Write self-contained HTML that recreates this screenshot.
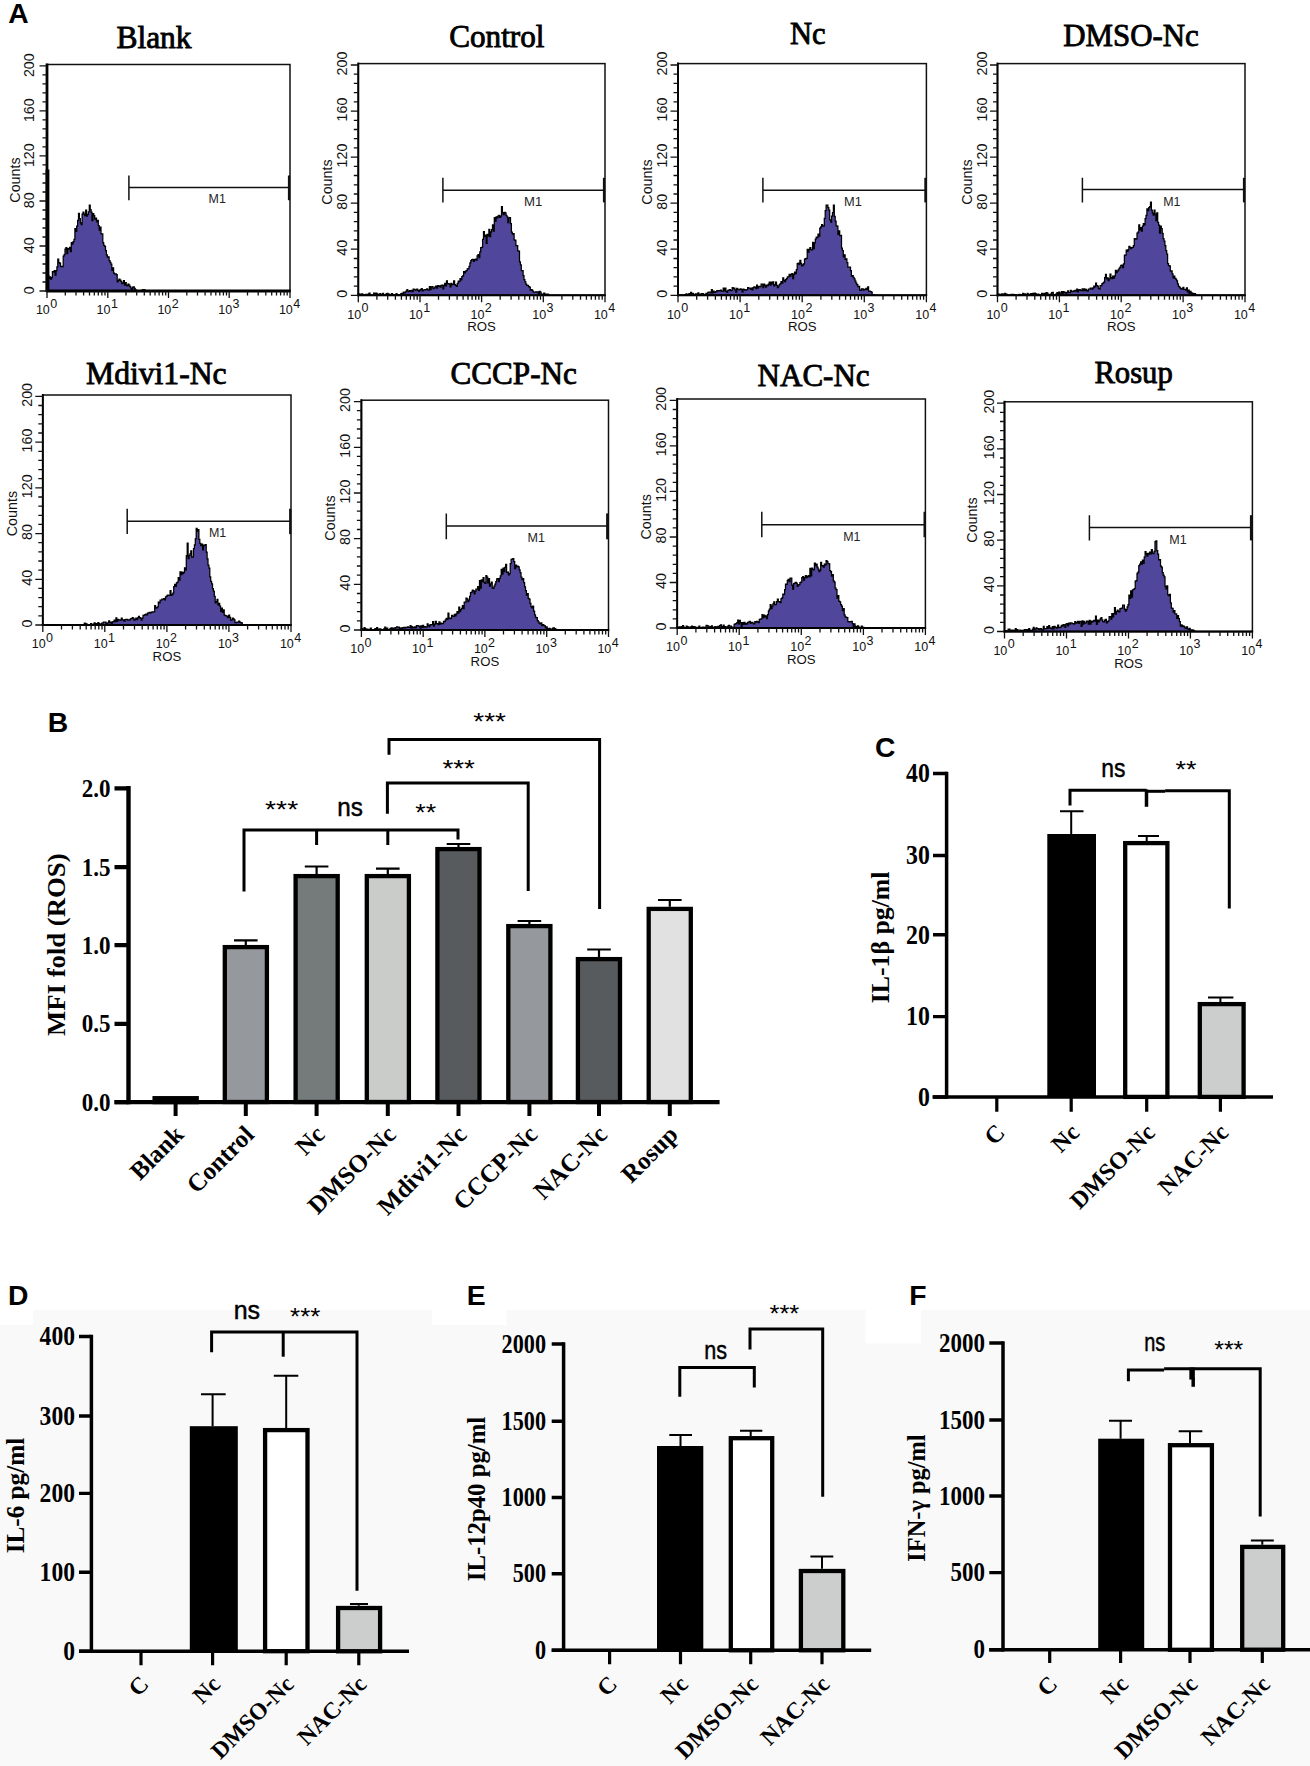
<!DOCTYPE html><html><head><meta charset="utf-8"><style>html,body{margin:0;padding:0;background:#fff;width:1310px;height:1766px;overflow:hidden}svg{display:block}</style></head><body>
<svg width="1310" height="1766" viewBox="0 0 1310 1766">
<rect width="1310" height="1766" fill="#fff"/>
<text x="8.2" y="23.4" font-family='"Liberation Sans", sans-serif' font-weight="bold" font-size="28.3">A</text>
<path d="M47.0,291.0 L47.0,277.4 L47.9,277.4 L47.9,275.4 L48.8,275.4 L48.8,278.4 L49.7,278.4 L49.7,276.9 L50.6,276.9 L50.6,279.0 L51.5,279.0 L51.5,277.6 L52.4,277.6 L52.4,271.5 L53.3,271.5 L53.3,271.9 L54.2,271.9 L54.2,270.6 L55.1,270.6 L55.1,275.0 L56.0,275.0 L56.0,270.7 L56.9,270.7 L56.9,266.9 L57.8,266.9 L57.8,259.2 L58.7,259.2 L58.7,262.5 L59.6,262.5 L59.6,263.1 L60.5,263.1 L60.5,266.6 L61.4,266.6 L61.4,266.3 L62.3,266.3 L62.3,266.6 L63.2,266.6 L63.2,256.0 L64.1,256.0 L64.1,254.6 L65.0,254.6 L65.0,249.1 L65.9,249.1 L65.9,247.6 L66.8,247.6 L66.8,253.5 L67.7,253.5 L67.7,248.5 L68.6,248.5 L68.6,249.1 L69.5,249.1 L69.5,247.4 L70.4,247.4 L70.4,251.6 L71.3,251.6 L71.3,242.6 L72.2,242.6 L72.2,244.0 L73.1,244.0 L73.1,241.7 L74.0,241.7 L74.0,239.3 L74.9,239.3 L74.9,228.5 L75.8,228.5 L75.8,231.3 L76.7,231.3 L76.7,226.0 L77.6,226.0 L77.6,220.3 L78.5,220.3 L78.5,213.3 L79.4,213.3 L79.4,218.5 L80.3,218.5 L80.3,222.9 L81.2,222.9 L81.2,224.5 L82.1,224.5 L82.1,214.0 L83.0,214.0 L83.0,212.0 L83.9,212.0 L83.9,214.2 L84.8,214.2 L84.8,215.5 L85.7,215.5 L85.7,210.0 L86.6,210.0 L86.6,216.1 L87.5,216.1 L87.5,214.4 L88.4,214.4 L88.4,211.8 L89.3,211.8 L89.3,205.2 L90.2,205.2 L90.2,209.7 L91.1,209.7 L91.1,212.1 L92.0,212.1 L92.0,220.7 L92.9,220.7 L92.9,213.6 L93.8,213.6 L93.8,215.5 L94.7,215.5 L94.7,219.0 L95.6,219.0 L95.6,218.0 L96.5,218.0 L96.5,221.7 L97.4,221.7 L97.4,220.4 L98.3,220.4 L98.3,225.6 L99.2,225.6 L99.2,230.0 L100.1,230.0 L100.1,227.0 L101.0,227.0 L101.0,233.9 L101.9,233.9 L101.9,233.9 L102.8,233.9 L102.8,242.5 L103.7,242.5 L103.7,245.4 L104.6,245.4 L104.6,246.3 L105.5,246.3 L105.5,250.5 L106.4,250.5 L106.4,254.8 L107.3,254.8 L107.3,257.0 L108.2,257.0 L108.2,256.8 L109.1,256.8 L109.1,260.6 L110.0,260.6 L110.0,262.4 L110.9,262.4 L110.9,264.1 L111.8,264.1 L111.8,270.4 L112.7,270.4 L112.7,267.8 L113.6,267.8 L113.6,273.1 L114.5,273.1 L114.5,273.8 L115.4,273.8 L115.4,273.9 L116.3,273.9 L116.3,274.6 L117.2,274.6 L117.2,281.8 L118.1,281.8 L118.1,280.3 L119.0,280.3 L119.0,279.2 L119.9,279.2 L119.9,280.2 L120.8,280.2 L120.8,281.3 L121.7,281.3 L121.7,283.5 L122.6,283.5 L122.6,282.8 L123.5,282.8 L123.5,280.7 L124.4,280.7 L124.4,285.0 L125.3,285.0 L125.3,282.6 L126.2,282.6 L126.2,285.2 L127.1,285.2 L127.1,285.9 L128.0,285.9 L128.0,284.1 L128.9,284.1 L128.9,285.2 L129.8,285.2 L129.8,286.6 L130.7,286.6 L130.7,288.0 L131.6,288.0 L131.6,289.3 L132.5,289.3 L132.5,287.1 L133.4,287.1 L133.4,286.9 L134.3,286.9 L134.3,288.4 L135.2,288.4 L135.2,289.6 L136.1,289.6 L136.1,291.0 L137.0,291.0 L137.0,290.7 L137.9,290.7 L137.9,290.8 L138.8,290.8 L138.8,290.8 L139.7,290.8 L139.7,290.8 L140.6,290.8 L140.6,290.8 L141.5,290.8 L141.5,290.4 L142.4,290.4 L142.4,289.8 L143.3,289.8 L143.3,289.5 L144.2,289.5 L144.2,289.9 L145.1,289.9 L145.1,291.0 L146.0,291.0 L146.0,291.0 L146.9,291.0 L146.9,291.0 L147.8,291.0 L147.8,291.0 L148.7,291.0 L148.7,291.0 L149.6,291.0 L149.6,291.0 L150.5,291.0 L150.5,291.0 L151.4,291.0 L151.4,291.0 L152.3,291.0 L152.3,291.0 L153.2,291.0 L153.2,291.0 L154.1,291.0 L154.1,291.0 L155.0,291.0 L155.0,291.0 L155.9,291.0 L155.9,291.0 L156.8,291.0 L156.8,291.0 L157.7,291.0 L157.7,291.0 L158.6,291.0 L158.6,291.0 L159.5,291.0 L159.5,291.0 L160.4,291.0 L160.4,291.0 L161.3,291.0 L161.3,291.0 L162.2,291.0 L162.2,291.0 L163.1,291.0 L163.1,291.0 L164.0,291.0 L164.0,291.0 L164.9,291.0 L164.9,291.0 L165.8,291.0 L165.8,291.0 L166.7,291.0 L166.7,291.0 L167.6,291.0 L167.6,291.0 L168.5,291.0 L168.5,291.0 L169.4,291.0 L169.4,291.0 L170.3,291.0 L170.3,291.0 L171.2,291.0 L171.2,291.0 L172.1,291.0 L172.1,291.0 L173.0,291.0 L173.0,291.0 L173.9,291.0 L173.9,291.0 L174.8,291.0 L174.8,291.0 L175.7,291.0 L175.7,291.0 L176.6,291.0 L176.6,291.0 L177.5,291.0 L177.5,291.0 L178.4,291.0 L178.4,291.0 L179.3,291.0 L179.3,291.0 L180.2,291.0 L180.2,291.0 L181.1,291.0 L181.1,291.0 L182.0,291.0 L182.0,291.0 L182.9,291.0 L182.9,291.0 L183.8,291.0 L183.8,291.0 L184.7,291.0 L184.7,291.0 L185.6,291.0 L185.6,291.0 L186.5,291.0 L186.5,291.0 L187.4,291.0 L187.4,291.0 L188.3,291.0 L188.3,291.0 L189.2,291.0 L189.2,291.0 L190.1,291.0 L190.1,291.0 L191.0,291.0 L191.0,291.0 L191.9,291.0 L191.9,291.0 L192.8,291.0 L192.8,291.0 L193.7,291.0 L193.7,291.0 L194.6,291.0 L194.6,291.0 L195.5,291.0 L195.5,291.0 L196.4,291.0 L196.4,291.0 L197.3,291.0 L197.3,291.0 L198.2,291.0 L198.2,291.0 L199.1,291.0 L199.1,291.0 L200.0,291.0 L200.0,291.0 L200.9,291.0 L200.9,291.0 L201.8,291.0 L201.8,291.0 L202.7,291.0 L202.7,291.0 L203.6,291.0 L203.6,291.0 L204.5,291.0 L204.5,291.0 L205.4,291.0 L205.4,291.0 L206.3,291.0 L206.3,291.0 L207.2,291.0 L207.2,291.0 L208.1,291.0 L208.1,291.0 L209.0,291.0 L209.0,291.0 L209.9,291.0 L209.9,291.0 L210.8,291.0 L210.8,291.0 L211.7,291.0 L211.7,291.0 L212.6,291.0 L212.6,291.0 L213.5,291.0 L213.5,291.0 L214.4,291.0 L214.4,291.0 L215.3,291.0 L215.3,291.0 L216.2,291.0 L216.2,291.0 L217.1,291.0 L217.1,291.0 L218.0,291.0 L218.0,291.0 L218.9,291.0 L218.9,291.0 L219.8,291.0 L219.8,291.0 L220.7,291.0 L220.7,291.0 L221.6,291.0 L221.6,291.0 L222.5,291.0 L222.5,291.0 L223.4,291.0 L223.4,291.0 L224.3,291.0 L224.3,291.0 L225.2,291.0 L225.2,291.0 L226.1,291.0 L226.1,291.0 L227.0,291.0 L227.0,291.0 L227.9,291.0 L227.9,291.0 L228.8,291.0 L228.8,291.0 L229.7,291.0 L229.7,291.0 L230.6,291.0 L230.6,291.0 L231.5,291.0 L231.5,291.0 L232.4,291.0 L232.4,291.0 L233.3,291.0 L233.3,291.0 L234.2,291.0 L234.2,291.0 L235.1,291.0 L235.1,291.0 L236.0,291.0 L236.0,291.0 L236.9,291.0 L236.9,291.0 L237.8,291.0 L237.8,291.0 L238.7,291.0 L238.7,291.0 L239.6,291.0 L239.6,291.0 L240.5,291.0 L240.5,291.0 L241.4,291.0 L241.4,291.0 L242.3,291.0 L242.3,291.0 L243.2,291.0 L243.2,291.0 L244.1,291.0 L244.1,291.0 L245.0,291.0 L245.0,291.0 L245.9,291.0 L245.9,291.0 L246.8,291.0 L246.8,291.0 L247.7,291.0 L247.7,291.0 L248.6,291.0 L248.6,291.0 L249.5,291.0 L249.5,291.0 L250.4,291.0 L250.4,291.0 L251.3,291.0 L251.3,291.0 L252.2,291.0 L252.2,291.0 L253.1,291.0 L253.1,291.0 L254.0,291.0 L254.0,291.0 L254.9,291.0 L254.9,291.0 L255.8,291.0 L255.8,291.0 L256.7,291.0 L256.7,291.0 L257.6,291.0 L257.6,291.0 L258.5,291.0 L258.5,291.0 L259.4,291.0 L259.4,291.0 L260.3,291.0 L260.3,291.0 L261.2,291.0 L261.2,291.0 L262.1,291.0 L262.1,291.0 L263.0,291.0 L263.0,291.0 L263.9,291.0 L263.9,291.0 L264.8,291.0 L264.8,291.0 L265.7,291.0 L265.7,291.0 L266.6,291.0 L266.6,291.0 L267.5,291.0 L267.5,291.0 L268.4,291.0 L268.4,291.0 L269.3,291.0 L269.3,291.0 L270.2,291.0 L270.2,291.0 L271.1,291.0 L271.1,291.0 L272.0,291.0 L272.0,291.0 L272.9,291.0 L272.9,291.0 L273.8,291.0 L273.8,291.0 L274.7,291.0 L274.7,291.0 L275.6,291.0 L275.6,291.0 L276.5,291.0 L276.5,291.0 L277.4,291.0 L277.4,291.0 L278.3,291.0 L278.3,291.0 L279.2,291.0 L279.2,291.0 L280.1,291.0 L280.1,291.0 L281.0,291.0 L281.0,291.0 L281.9,291.0 L281.9,291.0 L282.8,291.0 L282.8,291.0 L283.7,291.0 L283.7,291.0 L284.6,291.0 L284.6,291.0 L285.5,291.0 L285.5,291.0 L286.4,291.0 L286.4,291.0 L287.3,291.0 L287.3,291.0 L288.2,291.0 L288.2,291.0 L289.1,291.0 L289.1,291.0 L290.0,291.0 L290.0,291.0 Z" fill="#50479c" stroke="#000" stroke-width="1.25" stroke-linejoin="miter" stroke-miterlimit="2"/>
<rect x="47.0" y="64.5" width="243.0" height="226.5" fill="none" stroke="#111" stroke-width="1.5"/>
<line x1="47.0" y1="63.5" x2="47.0" y2="292.0" stroke="#000" stroke-width="2.8"/>
<line x1="47.5" y1="169.5" x2="47.5" y2="292.0" stroke="#000" stroke-width="3.8"/>
<line x1="46.0" y1="291.0" x2="290.7" y2="291.0" stroke="#000" stroke-width="2.8"/>
<path d="M39.5,291.0 h7.5 M42.5,282.0 h4.5 M42.5,273.0 h4.5 M42.5,264.0 h4.5 M42.5,255.0 h4.5 M39.5,246.0 h7.5 M42.5,237.0 h4.5 M42.5,228.0 h4.5 M42.5,219.0 h4.5 M42.5,210.0 h4.5 M39.5,201.0 h7.5 M42.5,192.0 h4.5 M42.5,183.0 h4.5 M42.5,173.9 h4.5 M42.5,164.9 h4.5 M39.5,155.9 h7.5 M42.5,146.9 h4.5 M42.5,137.9 h4.5 M42.5,128.9 h4.5 M42.5,119.9 h4.5 M39.5,110.9 h7.5 M42.5,101.9 h4.5 M42.5,92.9 h4.5 M42.5,83.9 h4.5 M42.5,74.9 h4.5 M39.5,65.9 h7.5" stroke="#111" stroke-width="1.3"/>
<path d="M47.0,291.0 v7.0 M65.3,291.0 v4.5 M76.0,291.0 v4.5 M83.6,291.0 v4.5 M89.5,291.0 v4.5 M94.3,291.0 v4.5 M98.3,291.0 v4.5 M101.9,291.0 v4.5 M105.0,291.0 v4.5 M107.8,291.0 v7.0 M126.0,291.0 v4.5 M136.7,291.0 v4.5 M144.3,291.0 v4.5 M150.2,291.0 v4.5 M155.0,291.0 v4.5 M159.1,291.0 v4.5 M162.6,291.0 v4.5 M165.7,291.0 v4.5 M168.5,291.0 v7.0 M186.8,291.0 v4.5 M197.5,291.0 v4.5 M205.1,291.0 v4.5 M211.0,291.0 v4.5 M215.8,291.0 v4.5 M219.8,291.0 v4.5 M223.4,291.0 v4.5 M226.5,291.0 v4.5 M229.2,291.0 v7.0 M247.5,291.0 v4.5 M258.2,291.0 v4.5 M265.8,291.0 v4.5 M271.7,291.0 v4.5 M276.5,291.0 v4.5 M280.6,291.0 v4.5 M284.1,291.0 v4.5 M287.2,291.0 v4.5 M290.0,291.0 v7" stroke="#111" stroke-width="1.3"/>
<text transform="translate(34.4,290.3) rotate(-90)" font-family='"Liberation Sans", sans-serif' font-size="14.3" text-anchor="middle" fill="#111">0</text>
<text transform="translate(34.4,245.3) rotate(-90)" font-family='"Liberation Sans", sans-serif' font-size="14.3" text-anchor="middle" fill="#111">40</text>
<text transform="translate(34.4,200.3) rotate(-90)" font-family='"Liberation Sans", sans-serif' font-size="14.3" text-anchor="middle" fill="#111">80</text>
<text transform="translate(34.4,155.2) rotate(-90)" font-family='"Liberation Sans", sans-serif' font-size="14.3" text-anchor="middle" fill="#111">120</text>
<text transform="translate(34.4,110.2) rotate(-90)" font-family='"Liberation Sans", sans-serif' font-size="14.3" text-anchor="middle" fill="#111">160</text>
<text transform="translate(34.4,65.2) rotate(-90)" font-family='"Liberation Sans", sans-serif' font-size="14.3" text-anchor="middle" fill="#111">200</text>
<text x="49.8" y="314.2" font-family='"Liberation Sans", sans-serif' font-size="12.5" fill="#111" text-anchor="end">10</text>
<text x="50.2" y="307.8" font-family='"Liberation Sans", sans-serif' font-size="12.5" fill="#111">0</text>
<text x="110.5" y="314.2" font-family='"Liberation Sans", sans-serif' font-size="12.5" fill="#111" text-anchor="end">10</text>
<text x="111.0" y="307.8" font-family='"Liberation Sans", sans-serif' font-size="12.5" fill="#111">1</text>
<text x="171.3" y="314.2" font-family='"Liberation Sans", sans-serif' font-size="12.5" fill="#111" text-anchor="end">10</text>
<text x="171.7" y="307.8" font-family='"Liberation Sans", sans-serif' font-size="12.5" fill="#111">2</text>
<text x="232.1" y="314.2" font-family='"Liberation Sans", sans-serif' font-size="12.5" fill="#111" text-anchor="end">10</text>
<text x="232.4" y="307.8" font-family='"Liberation Sans", sans-serif' font-size="12.5" fill="#111">3</text>
<text x="292.8" y="314.2" font-family='"Liberation Sans", sans-serif' font-size="12.5" fill="#111" text-anchor="end">10</text>
<text x="293.2" y="307.8" font-family='"Liberation Sans", sans-serif' font-size="12.5" fill="#111">4</text>
<text transform="translate(19.8,180.0) rotate(-90)" font-family='"Liberation Sans", sans-serif' font-size="14.3" text-anchor="middle" fill="#111">Counts</text>
<path d="M128.9,175.5 V200.2 M128.9,187.6 H289.0" stroke="#111" stroke-width="1.5" fill="none"/>
<path d="M289.0,175.5 V200.2" stroke="#111" stroke-width="2.2" fill="none"/>
<text x="208.6" y="203.4" font-family='"Liberation Sans", sans-serif' font-size="12.5" fill="#222" textLength="17.2" lengthAdjust="spacingAndGlyphs">M1</text>
<text x="116.4" y="47.6" font-family='"Liberation Serif", serif' font-size="31.5" fill="#000" stroke="#000" stroke-width="0.85" textLength="75.2" lengthAdjust="spacingAndGlyphs">Blank</text>
<path d="M358.3,295.3 L358.3,293.9 L359.2,293.9 L359.2,294.5 L360.1,294.5 L360.1,294.2 L361.0,294.2 L361.0,294.0 L361.9,294.0 L361.9,293.9 L362.8,293.9 L362.8,294.8 L363.7,294.8 L363.7,295.3 L364.6,295.3 L364.6,295.3 L365.5,295.3 L365.5,294.4 L366.4,294.4 L366.4,294.6 L367.3,294.6 L367.3,294.6 L368.2,294.6 L368.2,293.9 L369.1,293.9 L369.1,293.0 L370.0,293.0 L370.0,294.9 L370.9,294.9 L370.9,294.8 L371.8,294.8 L371.8,295.3 L372.7,295.3 L372.7,295.0 L373.6,295.0 L373.6,293.0 L374.5,293.0 L374.5,293.4 L375.4,293.4 L375.4,293.1 L376.3,293.1 L376.3,293.4 L377.2,293.4 L377.2,294.1 L378.1,294.1 L378.1,295.3 L379.0,295.3 L379.0,294.4 L379.9,294.4 L379.9,293.7 L380.8,293.7 L380.8,294.7 L381.7,294.7 L381.7,294.7 L382.6,294.7 L382.6,293.3 L383.5,293.3 L383.5,294.9 L384.4,294.9 L384.4,295.3 L385.3,295.3 L385.3,294.9 L386.2,294.9 L386.2,293.7 L387.1,293.7 L387.1,293.4 L388.0,293.4 L388.0,294.7 L388.9,294.7 L388.9,294.0 L389.8,294.0 L389.8,294.7 L390.7,294.7 L390.7,294.8 L391.6,294.8 L391.6,293.7 L392.5,293.7 L392.5,295.3 L393.4,295.3 L393.4,294.7 L394.3,294.7 L394.3,294.5 L395.2,294.5 L395.2,294.6 L396.1,294.6 L396.1,293.5 L397.0,293.5 L397.0,294.8 L397.9,294.8 L397.9,295.3 L398.8,295.3 L398.8,294.5 L399.7,294.5 L399.7,295.3 L400.6,295.3 L400.6,293.8 L401.5,293.8 L401.5,293.4 L402.4,293.4 L402.4,295.2 L403.3,295.2 L403.3,292.1 L404.2,292.1 L404.2,292.9 L405.1,292.9 L405.1,292.0 L406.0,292.0 L406.0,291.1 L406.9,291.1 L406.9,289.5 L407.8,289.5 L407.8,291.2 L408.7,291.2 L408.7,291.5 L409.6,291.5 L409.6,290.6 L410.5,290.6 L410.5,291.2 L411.4,291.2 L411.4,290.3 L412.3,290.3 L412.3,291.7 L413.2,291.7 L413.2,289.0 L414.1,289.0 L414.1,289.4 L415.0,289.4 L415.0,290.1 L415.9,290.1 L415.9,289.9 L416.8,289.9 L416.8,289.0 L417.7,289.0 L417.7,290.4 L418.6,290.4 L418.6,291.4 L419.5,291.4 L419.5,290.0 L420.4,290.0 L420.4,289.5 L421.3,289.5 L421.3,288.5 L422.2,288.5 L422.2,290.8 L423.1,290.8 L423.1,289.9 L424.0,289.9 L424.0,289.8 L424.9,289.8 L424.9,289.5 L425.8,289.5 L425.8,289.5 L426.7,289.5 L426.7,288.8 L427.6,288.8 L427.6,289.9 L428.5,289.9 L428.5,290.2 L429.4,290.2 L429.4,286.6 L430.3,286.6 L430.3,289.7 L431.2,289.7 L431.2,286.9 L432.1,286.9 L432.1,286.6 L433.0,286.6 L433.0,288.7 L433.9,288.7 L433.9,288.2 L434.8,288.2 L434.8,287.2 L435.7,287.2 L435.7,286.1 L436.6,286.1 L436.6,288.0 L437.5,288.0 L437.5,285.6 L438.4,285.6 L438.4,286.4 L439.3,286.4 L439.3,285.9 L440.2,285.9 L440.2,287.1 L441.1,287.1 L441.1,285.3 L442.0,285.3 L442.0,285.0 L442.9,285.0 L442.9,288.8 L443.8,288.8 L443.8,285.3 L444.7,285.3 L444.7,283.4 L445.6,283.4 L445.6,285.9 L446.5,285.9 L446.5,280.8 L447.4,280.8 L447.4,283.6 L448.3,283.6 L448.3,283.5 L449.2,283.5 L449.2,284.2 L450.1,284.2 L450.1,286.8 L451.0,286.8 L451.0,283.3 L451.9,283.3 L451.9,284.7 L452.8,284.7 L452.8,284.4 L453.7,284.4 L453.7,280.9 L454.6,280.9 L454.6,284.7 L455.5,284.7 L455.5,285.4 L456.4,285.4 L456.4,286.4 L457.3,286.4 L457.3,283.3 L458.2,283.3 L458.2,281.2 L459.1,281.2 L459.1,281.5 L460.0,281.5 L460.0,278.7 L460.9,278.7 L460.9,279.9 L461.8,279.9 L461.8,276.5 L462.7,276.5 L462.7,275.9 L463.6,275.9 L463.6,271.6 L464.5,271.6 L464.5,272.8 L465.4,272.8 L465.4,271.2 L466.3,271.2 L466.3,270.5 L467.2,270.5 L467.2,268.9 L468.1,268.9 L468.1,268.5 L469.0,268.5 L469.0,266.3 L469.9,266.3 L469.9,262.8 L470.8,262.8 L470.8,260.7 L471.7,260.7 L471.7,259.5 L472.6,259.5 L472.6,259.4 L473.5,259.4 L473.5,261.3 L474.4,261.3 L474.4,259.5 L475.3,259.5 L475.3,259.0 L476.2,259.0 L476.2,260.1 L477.1,260.1 L477.1,255.8 L478.0,255.8 L478.0,254.5 L478.9,254.5 L478.9,257.5 L479.8,257.5 L479.8,251.9 L480.7,251.9 L480.7,247.6 L481.6,247.6 L481.6,247.3 L482.6,247.3 L482.6,239.3 L483.5,239.3 L483.5,231.6 L484.4,231.6 L484.4,236.5 L485.3,236.5 L485.3,235.0 L486.2,235.0 L486.2,243.3 L487.1,243.3 L487.1,234.3 L488.0,234.3 L488.0,236.2 L488.9,236.2 L488.9,229.3 L489.8,229.3 L489.8,236.5 L490.7,236.5 L490.7,231.9 L491.6,231.9 L491.6,229.5 L492.5,229.5 L492.5,224.9 L493.4,224.9 L493.4,231.0 L494.3,231.0 L494.3,217.6 L495.2,217.6 L495.2,221.1 L496.1,221.1 L496.1,216.8 L497.0,216.8 L497.0,217.9 L497.9,217.9 L497.9,216.0 L498.8,216.0 L498.8,215.4 L499.7,215.4 L499.7,217.4 L500.6,217.4 L500.6,216.1 L501.5,216.1 L501.5,206.6 L502.4,206.6 L502.4,212.6 L503.3,212.6 L503.3,214.6 L504.2,214.6 L504.2,212.3 L505.1,212.3 L505.1,212.8 L506.0,212.8 L506.0,215.4 L506.9,215.4 L506.9,216.9 L507.8,216.9 L507.8,222.6 L508.7,222.6 L508.7,217.9 L509.6,217.9 L509.6,217.7 L510.5,217.7 L510.5,223.7 L511.4,223.7 L511.4,232.0 L512.3,232.0 L512.3,234.1 L513.2,234.1 L513.2,233.5 L514.1,233.5 L514.1,239.9 L515.0,239.9 L515.0,240.3 L515.9,240.3 L515.9,245.6 L516.8,245.6 L516.8,245.7 L517.7,245.7 L517.7,250.9 L518.6,250.9 L518.6,251.2 L519.5,251.2 L519.5,261.9 L520.4,261.9 L520.4,264.8 L521.3,264.8 L521.3,270.6 L522.2,270.6 L522.2,270.5 L523.1,270.5 L523.1,275.6 L524.0,275.6 L524.0,279.6 L524.9,279.6 L524.9,281.8 L525.8,281.8 L525.8,284.2 L526.7,284.2 L526.7,285.4 L527.6,285.4 L527.6,285.3 L528.5,285.3 L528.5,286.6 L529.4,286.6 L529.4,287.0 L530.3,287.0 L530.3,290.1 L531.2,290.1 L531.2,289.6 L532.1,289.6 L532.1,290.3 L533.0,290.3 L533.0,291.8 L533.9,291.8 L533.9,292.2 L534.8,292.2 L534.8,292.1 L535.7,292.1 L535.7,291.8 L536.6,291.8 L536.6,292.0 L537.5,292.0 L537.5,291.8 L538.4,291.8 L538.4,293.4 L539.3,293.4 L539.3,291.3 L540.2,291.3 L540.2,292.2 L541.1,292.2 L541.1,294.7 L542.0,294.7 L542.0,294.1 L542.9,294.1 L542.9,294.0 L543.8,294.0 L543.8,293.1 L544.7,293.1 L544.7,295.3 L545.6,295.3 L545.6,294.0 L546.5,294.0 L546.5,294.2 L547.4,294.2 L547.4,294.1 L548.3,294.1 L548.3,295.0 L549.2,295.0 L549.2,295.3 L550.1,295.3 L550.1,295.3 L551.0,295.3 L551.0,295.3 L551.9,295.3 L551.9,295.3 L552.8,295.3 L552.8,295.3 L553.7,295.3 L553.7,295.3 L554.6,295.3 L554.6,295.3 L555.5,295.3 L555.5,295.3 L556.4,295.3 L556.4,295.3 L557.3,295.3 L557.3,295.3 L558.2,295.3 L558.2,295.3 L559.1,295.3 L559.1,295.3 L560.0,295.3 L560.0,295.3 L560.9,295.3 L560.9,295.3 L561.8,295.3 L561.8,295.3 L562.7,295.3 L562.7,295.3 L563.6,295.3 L563.6,295.3 L564.5,295.3 L564.5,295.3 L565.4,295.3 L565.4,295.3 L566.3,295.3 L566.3,295.3 L567.2,295.3 L567.2,295.3 L568.1,295.3 L568.1,295.3 L569.0,295.3 L569.0,295.3 L569.9,295.3 L569.9,295.3 L570.8,295.3 L570.8,295.3 L571.7,295.3 L571.7,295.3 L572.6,295.3 L572.6,295.3 L573.5,295.3 L573.5,295.3 L574.4,295.3 L574.4,295.3 L575.3,295.3 L575.3,295.3 L576.2,295.3 L576.2,295.3 L577.1,295.3 L577.1,295.3 L578.0,295.3 L578.0,295.3 L578.9,295.3 L578.9,295.3 L579.8,295.3 L579.8,295.3 L580.7,295.3 L580.7,295.3 L581.6,295.3 L581.6,295.3 L582.5,295.3 L582.5,295.3 L583.4,295.3 L583.4,295.3 L584.3,295.3 L584.3,295.3 L585.2,295.3 L585.2,295.3 L586.1,295.3 L586.1,295.3 L587.0,295.3 L587.0,295.3 L587.9,295.3 L587.9,295.3 L588.8,295.3 L588.8,295.3 L589.7,295.3 L589.7,295.3 L590.6,295.3 L590.6,295.3 L591.5,295.3 L591.5,295.3 L592.4,295.3 L592.4,295.3 L593.3,295.3 L593.3,295.3 L594.2,295.3 L594.2,295.3 L595.1,295.3 L595.1,295.3 L596.0,295.3 L596.0,295.3 L596.9,295.3 L596.9,295.3 L597.8,295.3 L597.8,295.3 L598.7,295.3 L598.7,295.3 L599.6,295.3 L599.6,295.3 L600.5,295.3 L600.5,295.3 L601.4,295.3 L601.4,295.3 L602.3,295.3 L602.3,295.3 L603.2,295.3 L603.2,295.3 L604.1,295.3 L604.1,295.3 L605.0,295.3 L605.0,295.3 Z" fill="#50479c" stroke="#000" stroke-width="1.25" stroke-linejoin="miter" stroke-miterlimit="2"/>
<rect x="358.3" y="63.6" width="246.7" height="231.7" fill="none" stroke="#111" stroke-width="1.5"/>
<line x1="358.3" y1="62.6" x2="358.3" y2="296.3" stroke="#000" stroke-width="1.9"/>
<line x1="357.3" y1="295.3" x2="605.7" y2="295.3" stroke="#000" stroke-width="1.9"/>
<path d="M350.8,295.3 h7.5 M353.8,286.1 h4.5 M353.8,276.9 h4.5 M353.8,267.7 h4.5 M353.8,258.5 h4.5 M350.8,249.2 h7.5 M353.8,240.0 h4.5 M353.8,230.8 h4.5 M353.8,221.6 h4.5 M353.8,212.4 h4.5 M350.8,203.2 h7.5 M353.8,194.0 h4.5 M353.8,184.8 h4.5 M353.8,175.5 h4.5 M353.8,166.3 h4.5 M350.8,157.1 h7.5 M353.8,147.9 h4.5 M353.8,138.7 h4.5 M353.8,129.5 h4.5 M353.8,120.3 h4.5 M350.8,111.1 h7.5 M353.8,101.8 h4.5 M353.8,92.6 h4.5 M353.8,83.4 h4.5 M353.8,74.2 h4.5 M350.8,65.0 h7.5" stroke="#111" stroke-width="1.3"/>
<path d="M358.3,295.3 v7.0 M376.9,295.3 v4.5 M387.7,295.3 v4.5 M395.4,295.3 v4.5 M401.4,295.3 v4.5 M406.3,295.3 v4.5 M410.4,295.3 v4.5 M414.0,295.3 v4.5 M417.2,295.3 v4.5 M420.0,295.3 v7.0 M438.5,295.3 v4.5 M449.4,295.3 v4.5 M457.1,295.3 v4.5 M463.1,295.3 v4.5 M468.0,295.3 v4.5 M472.1,295.3 v4.5 M475.7,295.3 v4.5 M478.8,295.3 v4.5 M481.6,295.3 v7.0 M500.2,295.3 v4.5 M511.1,295.3 v4.5 M518.8,295.3 v4.5 M524.8,295.3 v4.5 M529.6,295.3 v4.5 M533.8,295.3 v4.5 M537.3,295.3 v4.5 M540.5,295.3 v4.5 M543.3,295.3 v7.0 M561.9,295.3 v4.5 M572.8,295.3 v4.5 M580.5,295.3 v4.5 M586.4,295.3 v4.5 M591.3,295.3 v4.5 M595.4,295.3 v4.5 M599.0,295.3 v4.5 M602.2,295.3 v4.5 M605.0,295.3 v7" stroke="#111" stroke-width="1.3"/>
<text transform="translate(347.3,293.8) rotate(-90)" font-family='"Liberation Sans", sans-serif' font-size="14.3" text-anchor="middle" fill="#111">0</text>
<text transform="translate(347.3,247.7) rotate(-90)" font-family='"Liberation Sans", sans-serif' font-size="14.3" text-anchor="middle" fill="#111">40</text>
<text transform="translate(347.3,201.7) rotate(-90)" font-family='"Liberation Sans", sans-serif' font-size="14.3" text-anchor="middle" fill="#111">80</text>
<text transform="translate(347.3,155.6) rotate(-90)" font-family='"Liberation Sans", sans-serif' font-size="14.3" text-anchor="middle" fill="#111">120</text>
<text transform="translate(347.3,109.6) rotate(-90)" font-family='"Liberation Sans", sans-serif' font-size="14.3" text-anchor="middle" fill="#111">160</text>
<text transform="translate(347.3,63.5) rotate(-90)" font-family='"Liberation Sans", sans-serif' font-size="14.3" text-anchor="middle" fill="#111">200</text>
<text x="361.1" y="318.5" font-family='"Liberation Sans", sans-serif' font-size="12.5" fill="#111" text-anchor="end">10</text>
<text x="361.5" y="312.1" font-family='"Liberation Sans", sans-serif' font-size="12.5" fill="#111">0</text>
<text x="422.8" y="318.5" font-family='"Liberation Sans", sans-serif' font-size="12.5" fill="#111" text-anchor="end">10</text>
<text x="423.2" y="312.1" font-family='"Liberation Sans", sans-serif' font-size="12.5" fill="#111">1</text>
<text x="484.4" y="318.5" font-family='"Liberation Sans", sans-serif' font-size="12.5" fill="#111" text-anchor="end">10</text>
<text x="484.8" y="312.1" font-family='"Liberation Sans", sans-serif' font-size="12.5" fill="#111">2</text>
<text x="546.1" y="318.5" font-family='"Liberation Sans", sans-serif' font-size="12.5" fill="#111" text-anchor="end">10</text>
<text x="546.5" y="312.1" font-family='"Liberation Sans", sans-serif' font-size="12.5" fill="#111">3</text>
<text x="607.8" y="318.5" font-family='"Liberation Sans", sans-serif' font-size="12.5" fill="#111" text-anchor="end">10</text>
<text x="608.2" y="312.1" font-family='"Liberation Sans", sans-serif' font-size="12.5" fill="#111">4</text>
<text transform="translate(332.2,182.0) rotate(-90)" font-family='"Liberation Sans", sans-serif' font-size="14.3" text-anchor="middle" fill="#111">Counts</text>
<text x="481.6" y="331.3" font-family='"Liberation Sans", sans-serif' font-size="13.2" text-anchor="middle" fill="#111">ROS</text>
<path d="M442.9,177.8 V202.4 M442.9,190.2 H604.0" stroke="#111" stroke-width="1.5" fill="none"/>
<path d="M604.0,177.8 V202.4" stroke="#111" stroke-width="2.2" fill="none"/>
<text x="524.0" y="206.3" font-family='"Liberation Sans", sans-serif' font-size="12.5" fill="#222" textLength="18.3" lengthAdjust="spacingAndGlyphs">M1</text>
<text x="449.2" y="46.7" font-family='"Liberation Serif", serif' font-size="31.5" fill="#000" stroke="#000" stroke-width="0.85" textLength="95.3" lengthAdjust="spacingAndGlyphs">Control</text>
<path d="M678.0,295.3 L678.0,295.3 L678.9,295.3 L678.9,294.9 L679.8,294.9 L679.8,295.3 L680.7,295.3 L680.7,295.3 L681.6,295.3 L681.6,295.1 L682.5,295.1 L682.5,295.3 L683.4,295.3 L683.4,295.3 L684.3,295.3 L684.3,294.6 L685.2,294.6 L685.2,294.7 L686.1,294.7 L686.1,293.8 L687.0,293.8 L687.0,295.3 L687.9,295.3 L687.9,295.3 L688.8,295.3 L688.8,293.5 L689.7,293.5 L689.7,295.0 L690.6,295.0 L690.6,292.3 L691.5,292.3 L691.5,293.7 L692.5,293.7 L692.5,293.4 L693.4,293.4 L693.4,295.3 L694.3,295.3 L694.3,294.5 L695.2,294.5 L695.2,293.9 L696.1,293.9 L696.1,294.9 L697.0,294.9 L697.0,293.8 L697.9,293.8 L697.9,292.9 L698.8,292.9 L698.8,294.3 L699.7,294.3 L699.7,294.2 L700.6,294.2 L700.6,294.0 L701.5,294.0 L701.5,293.5 L702.4,293.5 L702.4,293.6 L703.3,293.6 L703.3,294.3 L704.2,294.3 L704.2,294.3 L705.1,294.3 L705.1,294.9 L706.0,294.9 L706.0,293.4 L706.9,293.4 L706.9,293.8 L707.8,293.8 L707.8,292.4 L708.7,292.4 L708.7,292.2 L709.6,292.2 L709.6,292.2 L710.5,292.2 L710.5,292.8 L711.4,292.8 L711.4,289.6 L712.3,289.6 L712.3,292.9 L713.2,292.9 L713.2,291.2 L714.1,291.2 L714.1,292.4 L715.0,292.4 L715.0,291.9 L715.9,291.9 L715.9,291.6 L716.8,291.6 L716.8,290.7 L717.7,290.7 L717.7,290.9 L718.6,290.9 L718.6,290.6 L719.6,290.6 L719.6,290.8 L720.5,290.8 L720.5,290.0 L721.4,290.0 L721.4,291.1 L722.3,291.1 L722.3,291.1 L723.2,291.1 L723.2,288.2 L724.1,288.2 L724.1,290.8 L725.0,290.8 L725.0,288.2 L725.9,288.2 L725.9,291.3 L726.8,291.3 L726.8,292.4 L727.7,292.4 L727.7,290.3 L728.6,290.3 L728.6,290.0 L729.5,290.0 L729.5,289.5 L730.4,289.5 L730.4,290.7 L731.3,290.7 L731.3,290.3 L732.2,290.3 L732.2,287.5 L733.1,287.5 L733.1,288.7 L734.0,288.7 L734.0,288.0 L734.9,288.0 L734.9,289.8 L735.8,289.8 L735.8,292.0 L736.7,292.0 L736.7,288.3 L737.6,288.3 L737.6,289.4 L738.5,289.4 L738.5,289.5 L739.4,289.5 L739.4,289.4 L740.3,289.4 L740.3,288.9 L741.2,288.9 L741.2,289.5 L742.1,289.5 L742.1,291.8 L743.0,291.8 L743.0,289.2 L743.9,289.2 L743.9,289.5 L744.8,289.5 L744.8,290.0 L745.7,290.0 L745.7,289.9 L746.6,289.9 L746.6,289.7 L747.6,289.7 L747.6,287.6 L748.5,287.6 L748.5,288.0 L749.4,288.0 L749.4,288.2 L750.3,288.2 L750.3,289.0 L751.2,289.0 L751.2,288.0 L752.1,288.0 L752.1,289.9 L753.0,289.9 L753.0,287.6 L753.9,287.6 L753.9,286.9 L754.8,286.9 L754.8,287.2 L755.7,287.2 L755.7,288.5 L756.6,288.5 L756.6,285.2 L757.5,285.2 L757.5,288.1 L758.4,288.1 L758.4,286.5 L759.3,286.5 L759.3,286.3 L760.2,286.3 L760.2,286.7 L761.1,286.7 L761.1,284.2 L762.0,284.2 L762.0,284.2 L762.9,284.2 L762.9,287.5 L763.8,287.5 L763.8,284.0 L764.7,284.0 L764.7,285.4 L765.6,285.4 L765.6,287.2 L766.5,287.2 L766.5,285.1 L767.4,285.1 L767.4,285.6 L768.3,285.6 L768.3,284.1 L769.2,284.1 L769.2,282.0 L770.1,282.0 L770.1,285.0 L771.0,285.0 L771.0,282.1 L771.9,282.1 L771.9,283.9 L772.8,283.9 L772.8,281.8 L773.7,281.8 L773.7,285.8 L774.7,285.8 L774.7,284.6 L775.6,284.6 L775.6,282.2 L776.5,282.2 L776.5,285.4 L777.4,285.4 L777.4,287.6 L778.3,287.6 L778.3,286.0 L779.2,286.0 L779.2,284.5 L780.1,284.5 L780.1,283.7 L781.0,283.7 L781.0,281.5 L781.9,281.5 L781.9,283.1 L782.8,283.1 L782.8,277.9 L783.7,277.9 L783.7,280.3 L784.6,280.3 L784.6,281.5 L785.5,281.5 L785.5,279.6 L786.4,279.6 L786.4,278.6 L787.3,278.6 L787.3,276.8 L788.2,276.8 L788.2,276.9 L789.1,276.9 L789.1,274.4 L790.0,274.4 L790.0,276.0 L790.9,276.0 L790.9,274.3 L791.8,274.3 L791.8,273.6 L792.7,273.6 L792.7,278.6 L793.6,278.6 L793.6,274.3 L794.5,274.3 L794.5,272.1 L795.4,272.1 L795.4,273.5 L796.3,273.5 L796.3,269.5 L797.2,269.5 L797.2,263.6 L798.1,263.6 L798.1,263.1 L799.0,263.1 L799.0,264.4 L799.9,264.4 L799.9,260.3 L800.8,260.3 L800.8,263.3 L801.7,263.3 L801.7,265.9 L802.7,265.9 L802.7,264.8 L803.6,264.8 L803.6,263.8 L804.5,263.8 L804.5,259.0 L805.4,259.0 L805.4,258.6 L806.3,258.6 L806.3,258.3 L807.2,258.3 L807.2,249.3 L808.1,249.3 L808.1,252.1 L809.0,252.1 L809.0,249.3 L809.9,249.3 L809.9,247.5 L810.8,247.5 L810.8,249.6 L811.7,249.6 L811.7,249.9 L812.6,249.9 L812.6,242.4 L813.5,242.4 L813.5,248.7 L814.4,248.7 L814.4,242.8 L815.3,242.8 L815.3,239.2 L816.2,239.2 L816.2,237.0 L817.1,237.0 L817.1,237.7 L818.0,237.7 L818.0,234.0 L818.9,234.0 L818.9,236.1 L819.8,236.1 L819.8,228.1 L820.7,228.1 L820.7,226.8 L821.6,226.8 L821.6,224.6 L822.5,224.6 L822.5,225.8 L823.4,225.8 L823.4,226.1 L824.3,226.1 L824.3,218.4 L825.2,218.4 L825.2,210.6 L826.1,210.6 L826.1,205.0 L827.0,205.0 L827.0,205.2 L827.9,205.2 L827.9,207.5 L828.8,207.5 L828.8,210.1 L829.7,210.1 L829.7,219.9 L830.7,219.9 L830.7,222.0 L831.6,222.0 L831.6,216.1 L832.5,216.1 L832.5,212.5 L833.4,212.5 L833.4,205.2 L834.3,205.2 L834.3,216.4 L835.2,216.4 L835.2,221.2 L836.1,221.2 L836.1,225.9 L837.0,225.9 L837.0,226.0 L837.9,226.0 L837.9,234.3 L838.8,234.3 L838.8,230.9 L839.7,230.9 L839.7,235.7 L840.6,235.7 L840.6,235.4 L841.5,235.4 L841.5,248.0 L842.4,248.0 L842.4,250.7 L843.3,250.7 L843.3,256.9 L844.2,256.9 L844.2,254.8 L845.1,254.8 L845.1,259.4 L846.0,259.4 L846.0,258.8 L846.9,258.8 L846.9,262.5 L847.8,262.5 L847.8,267.1 L848.7,267.1 L848.7,267.2 L849.6,267.2 L849.6,267.2 L850.5,267.2 L850.5,270.5 L851.4,270.5 L851.4,276.0 L852.3,276.0 L852.3,275.6 L853.2,275.6 L853.2,277.4 L854.1,277.4 L854.1,278.9 L855.0,278.9 L855.0,281.1 L855.9,281.1 L855.9,283.0 L856.8,283.0 L856.8,284.6 L857.8,284.6 L857.8,286.5 L858.7,286.5 L858.7,286.3 L859.6,286.3 L859.6,290.1 L860.5,290.1 L860.5,290.3 L861.4,290.3 L861.4,288.8 L862.3,288.8 L862.3,288.8 L863.2,288.8 L863.2,290.1 L864.1,290.1 L864.1,289.4 L865.0,289.4 L865.0,289.4 L865.9,289.4 L865.9,288.3 L866.8,288.3 L866.8,289.6 L867.7,289.6 L867.7,286.8 L868.6,286.8 L868.6,291.1 L869.5,291.1 L869.5,291.1 L870.4,291.1 L870.4,291.5 L871.3,291.5 L871.3,292.1 L872.2,292.1 L872.2,294.8 L873.1,294.8 L873.1,294.7 L874.0,294.7 L874.0,295.3 L874.9,295.3 L874.9,295.0 L875.8,295.0 L875.8,295.2 L876.7,295.2 L876.7,295.3 L877.6,295.3 L877.6,295.3 L878.5,295.3 L878.5,295.3 L879.4,295.3 L879.4,295.3 L880.3,295.3 L880.3,295.3 L881.2,295.3 L881.2,295.3 L882.1,295.3 L882.1,295.3 L883.0,295.3 L883.0,295.3 L883.9,295.3 L883.9,295.3 L884.8,295.3 L884.8,295.3 L885.8,295.3 L885.8,295.3 L886.7,295.3 L886.7,295.3 L887.6,295.3 L887.6,295.3 L888.5,295.3 L888.5,295.3 L889.4,295.3 L889.4,295.3 L890.3,295.3 L890.3,295.3 L891.2,295.3 L891.2,295.3 L892.1,295.3 L892.1,295.3 L893.0,295.3 L893.0,295.3 L893.9,295.3 L893.9,295.3 L894.8,295.3 L894.8,295.3 L895.7,295.3 L895.7,295.3 L896.6,295.3 L896.6,295.3 L897.5,295.3 L897.5,295.3 L898.4,295.3 L898.4,295.3 L899.3,295.3 L899.3,295.3 L900.2,295.3 L900.2,295.3 L901.1,295.3 L901.1,295.3 L902.0,295.3 L902.0,295.3 L902.9,295.3 L902.9,295.3 L903.8,295.3 L903.8,295.3 L904.7,295.3 L904.7,295.3 L905.6,295.3 L905.6,295.3 L906.5,295.3 L906.5,295.3 L907.4,295.3 L907.4,295.3 L908.3,295.3 L908.3,295.3 L909.2,295.3 L909.2,295.3 L910.1,295.3 L910.1,295.3 L911.0,295.3 L911.0,295.3 L911.9,295.3 L911.9,295.3 L912.9,295.3 L912.9,295.3 L913.8,295.3 L913.8,295.3 L914.7,295.3 L914.7,295.3 L915.6,295.3 L915.6,295.3 L916.5,295.3 L916.5,295.3 L917.4,295.3 L917.4,295.3 L918.3,295.3 L918.3,295.3 L919.2,295.3 L919.2,295.3 L920.1,295.3 L920.1,295.3 L921.0,295.3 L921.0,295.3 L921.9,295.3 L921.9,295.3 L922.8,295.3 L922.8,295.3 L923.7,295.3 L923.7,295.3 L924.6,295.3 L924.6,295.3 L925.5,295.3 L925.5,295.3 L926.4,295.3 L926.4,295.3 Z" fill="#50479c" stroke="#000" stroke-width="1.25" stroke-linejoin="miter" stroke-miterlimit="2"/>
<rect x="678.0" y="63.6" width="248.4" height="231.7" fill="none" stroke="#111" stroke-width="1.5"/>
<line x1="678.0" y1="62.6" x2="678.0" y2="296.3" stroke="#000" stroke-width="1.9"/>
<line x1="677.0" y1="295.3" x2="927.1" y2="295.3" stroke="#000" stroke-width="1.9"/>
<path d="M670.5,295.3 h7.5 M673.5,286.1 h4.5 M673.5,276.9 h4.5 M673.5,267.7 h4.5 M673.5,258.5 h4.5 M670.5,249.2 h7.5 M673.5,240.0 h4.5 M673.5,230.8 h4.5 M673.5,221.6 h4.5 M673.5,212.4 h4.5 M670.5,203.2 h7.5 M673.5,194.0 h4.5 M673.5,184.8 h4.5 M673.5,175.5 h4.5 M673.5,166.3 h4.5 M670.5,157.1 h7.5 M673.5,147.9 h4.5 M673.5,138.7 h4.5 M673.5,129.5 h4.5 M673.5,120.3 h4.5 M670.5,111.1 h7.5 M673.5,101.8 h4.5 M673.5,92.6 h4.5 M673.5,83.4 h4.5 M673.5,74.2 h4.5 M670.5,65.0 h7.5" stroke="#111" stroke-width="1.3"/>
<path d="M678.0,295.3 v7.0 M696.7,295.3 v4.5 M707.6,295.3 v4.5 M715.4,295.3 v4.5 M721.4,295.3 v4.5 M726.3,295.3 v4.5 M730.5,295.3 v4.5 M734.1,295.3 v4.5 M737.3,295.3 v4.5 M740.1,295.3 v7.0 M758.8,295.3 v4.5 M769.7,295.3 v4.5 M777.5,295.3 v4.5 M783.5,295.3 v4.5 M788.4,295.3 v4.5 M792.6,295.3 v4.5 M796.2,295.3 v4.5 M799.4,295.3 v4.5 M802.2,295.3 v7.0 M820.9,295.3 v4.5 M831.8,295.3 v4.5 M839.6,295.3 v4.5 M845.6,295.3 v4.5 M850.5,295.3 v4.5 M854.7,295.3 v4.5 M858.3,295.3 v4.5 M861.5,295.3 v4.5 M864.3,295.3 v7.0 M883.0,295.3 v4.5 M893.9,295.3 v4.5 M901.7,295.3 v4.5 M907.7,295.3 v4.5 M912.6,295.3 v4.5 M916.8,295.3 v4.5 M920.4,295.3 v4.5 M923.6,295.3 v4.5 M926.4,295.3 v7" stroke="#111" stroke-width="1.3"/>
<text transform="translate(667.0,293.8) rotate(-90)" font-family='"Liberation Sans", sans-serif' font-size="14.3" text-anchor="middle" fill="#111">0</text>
<text transform="translate(667.0,247.7) rotate(-90)" font-family='"Liberation Sans", sans-serif' font-size="14.3" text-anchor="middle" fill="#111">40</text>
<text transform="translate(667.0,201.7) rotate(-90)" font-family='"Liberation Sans", sans-serif' font-size="14.3" text-anchor="middle" fill="#111">80</text>
<text transform="translate(667.0,155.6) rotate(-90)" font-family='"Liberation Sans", sans-serif' font-size="14.3" text-anchor="middle" fill="#111">120</text>
<text transform="translate(667.0,109.6) rotate(-90)" font-family='"Liberation Sans", sans-serif' font-size="14.3" text-anchor="middle" fill="#111">160</text>
<text transform="translate(667.0,63.5) rotate(-90)" font-family='"Liberation Sans", sans-serif' font-size="14.3" text-anchor="middle" fill="#111">200</text>
<text x="680.8" y="318.5" font-family='"Liberation Sans", sans-serif' font-size="12.5" fill="#111" text-anchor="end">10</text>
<text x="681.2" y="312.1" font-family='"Liberation Sans", sans-serif' font-size="12.5" fill="#111">0</text>
<text x="742.9" y="318.5" font-family='"Liberation Sans", sans-serif' font-size="12.5" fill="#111" text-anchor="end">10</text>
<text x="743.3" y="312.1" font-family='"Liberation Sans", sans-serif' font-size="12.5" fill="#111">1</text>
<text x="805.0" y="318.5" font-family='"Liberation Sans", sans-serif' font-size="12.5" fill="#111" text-anchor="end">10</text>
<text x="805.4" y="312.1" font-family='"Liberation Sans", sans-serif' font-size="12.5" fill="#111">2</text>
<text x="867.1" y="318.5" font-family='"Liberation Sans", sans-serif' font-size="12.5" fill="#111" text-anchor="end">10</text>
<text x="867.5" y="312.1" font-family='"Liberation Sans", sans-serif' font-size="12.5" fill="#111">3</text>
<text x="929.2" y="318.5" font-family='"Liberation Sans", sans-serif' font-size="12.5" fill="#111" text-anchor="end">10</text>
<text x="929.6" y="312.1" font-family='"Liberation Sans", sans-serif' font-size="12.5" fill="#111">4</text>
<text transform="translate(652.2,182.0) rotate(-90)" font-family='"Liberation Sans", sans-serif' font-size="14.3" text-anchor="middle" fill="#111">Counts</text>
<text x="802.2" y="331.3" font-family='"Liberation Sans", sans-serif' font-size="13.2" text-anchor="middle" fill="#111">ROS</text>
<path d="M762.9,177.8 V202.4 M762.9,190.2 H925.4" stroke="#111" stroke-width="1.5" fill="none"/>
<path d="M925.4,177.8 V202.4" stroke="#111" stroke-width="2.2" fill="none"/>
<text x="844.0" y="206.3" font-family='"Liberation Sans", sans-serif' font-size="12.5" fill="#222" textLength="17.8" lengthAdjust="spacingAndGlyphs">M1</text>
<text x="790.0" y="44.1" font-family='"Liberation Serif", serif' font-size="31.5" fill="#000" stroke="#000" stroke-width="0.85" textLength="35.6" lengthAdjust="spacingAndGlyphs">Nc</text>
<path d="M997.5,295.3 L997.5,295.3 L998.4,295.3 L998.4,294.2 L999.3,294.2 L999.3,294.7 L1000.2,294.7 L1000.2,294.5 L1001.1,294.5 L1001.1,294.2 L1002.0,294.2 L1002.0,293.9 L1002.9,293.9 L1002.9,295.3 L1003.8,295.3 L1003.8,294.1 L1004.7,294.1 L1004.7,293.3 L1005.6,293.3 L1005.6,294.0 L1006.5,294.0 L1006.5,294.4 L1007.4,294.4 L1007.4,294.5 L1008.3,294.5 L1008.3,295.3 L1009.2,295.3 L1009.2,295.3 L1010.1,295.3 L1010.1,295.3 L1011.0,295.3 L1011.0,294.4 L1011.9,294.4 L1011.9,294.7 L1012.8,294.7 L1012.8,294.4 L1013.7,294.4 L1013.7,294.9 L1014.6,294.9 L1014.6,294.6 L1015.5,294.6 L1015.5,295.1 L1016.4,295.1 L1016.4,295.3 L1017.3,295.3 L1017.3,295.3 L1018.2,295.3 L1018.2,295.2 L1019.1,295.2 L1019.1,294.3 L1020.0,294.3 L1020.0,295.3 L1020.9,295.3 L1020.9,294.5 L1021.8,294.5 L1021.8,294.8 L1022.7,294.8 L1022.7,293.3 L1023.6,293.3 L1023.6,294.5 L1024.5,294.5 L1024.5,293.9 L1025.4,293.9 L1025.4,294.7 L1026.3,294.7 L1026.3,295.3 L1027.2,295.3 L1027.2,293.3 L1028.1,293.3 L1028.1,294.9 L1029.0,294.9 L1029.0,294.5 L1029.9,294.5 L1029.9,294.1 L1030.8,294.1 L1030.8,293.5 L1031.7,293.5 L1031.7,294.9 L1032.6,294.9 L1032.6,293.4 L1033.5,293.4 L1033.5,294.7 L1034.4,294.7 L1034.4,293.2 L1035.3,293.2 L1035.3,293.6 L1036.2,293.6 L1036.2,295.3 L1037.1,295.3 L1037.1,294.4 L1038.0,294.4 L1038.0,294.1 L1038.9,294.1 L1038.9,295.2 L1039.8,295.2 L1039.8,295.0 L1040.7,295.0 L1040.7,294.6 L1041.6,294.6 L1041.6,293.4 L1042.5,293.4 L1042.5,293.7 L1043.4,293.7 L1043.4,293.9 L1044.3,293.9 L1044.3,293.3 L1045.2,293.3 L1045.2,293.7 L1046.1,293.7 L1046.1,292.5 L1047.0,292.5 L1047.0,293.1 L1047.9,293.1 L1047.9,295.3 L1048.8,295.3 L1048.8,294.4 L1049.7,294.4 L1049.7,294.4 L1050.6,294.4 L1050.6,294.1 L1051.5,294.1 L1051.5,292.6 L1052.4,292.6 L1052.4,292.3 L1053.3,292.3 L1053.3,294.8 L1054.2,294.8 L1054.2,294.5 L1055.1,294.5 L1055.1,295.3 L1056.0,295.3 L1056.0,293.8 L1056.9,293.8 L1056.9,292.5 L1057.8,292.5 L1057.8,294.3 L1058.7,294.3 L1058.7,292.1 L1059.6,292.1 L1059.6,293.9 L1060.5,293.9 L1060.5,293.1 L1061.4,293.1 L1061.4,291.7 L1062.3,291.7 L1062.3,293.5 L1063.2,293.5 L1063.2,291.7 L1064.1,291.7 L1064.1,292.7 L1065.0,292.7 L1065.0,292.4 L1065.9,292.4 L1065.9,293.9 L1066.8,293.9 L1066.8,292.3 L1067.7,292.3 L1067.7,290.8 L1068.6,290.8 L1068.6,292.7 L1069.5,292.7 L1069.5,292.5 L1070.4,292.5 L1070.4,290.4 L1071.3,290.4 L1071.3,291.5 L1072.2,291.5 L1072.2,291.6 L1073.1,291.6 L1073.1,290.8 L1074.0,290.8 L1074.0,291.1 L1074.9,291.1 L1074.9,290.4 L1075.8,290.4 L1075.8,291.1 L1076.7,291.1 L1076.7,289.0 L1077.6,289.0 L1077.6,291.9 L1078.5,291.9 L1078.5,289.8 L1079.4,289.8 L1079.4,289.5 L1080.3,289.5 L1080.3,290.4 L1081.2,290.4 L1081.2,290.6 L1082.1,290.6 L1082.1,288.9 L1083.0,288.9 L1083.0,290.7 L1083.9,290.7 L1083.9,288.8 L1084.8,288.8 L1084.8,290.7 L1085.7,290.7 L1085.7,289.3 L1086.6,289.3 L1086.6,290.5 L1087.5,290.5 L1087.5,291.2 L1088.4,291.2 L1088.4,289.2 L1089.3,289.2 L1089.3,289.2 L1090.2,289.2 L1090.2,288.0 L1091.1,288.0 L1091.1,288.0 L1092.0,288.0 L1092.0,289.0 L1092.9,289.0 L1092.9,287.9 L1093.8,287.9 L1093.8,286.0 L1094.7,286.0 L1094.7,286.8 L1095.6,286.8 L1095.6,283.0 L1096.5,283.0 L1096.5,285.5 L1097.4,285.5 L1097.4,286.2 L1098.3,286.2 L1098.3,288.3 L1099.2,288.3 L1099.2,289.2 L1100.1,289.2 L1100.1,285.6 L1101.0,285.6 L1101.0,285.5 L1101.9,285.5 L1101.9,283.6 L1102.8,283.6 L1102.8,283.2 L1103.7,283.2 L1103.7,282.1 L1104.6,282.1 L1104.6,277.7 L1105.5,277.7 L1105.5,274.3 L1106.4,274.3 L1106.4,278.8 L1107.3,278.8 L1107.3,277.8 L1108.2,277.8 L1108.2,280.7 L1109.1,280.7 L1109.1,278.9 L1110.0,278.9 L1110.0,274.1 L1110.9,274.1 L1110.9,277.5 L1111.8,277.5 L1111.8,278.5 L1112.7,278.5 L1112.7,276.2 L1113.6,276.2 L1113.6,278.0 L1114.5,278.0 L1114.5,275.8 L1115.4,275.8 L1115.4,270.4 L1116.3,270.4 L1116.3,272.7 L1117.2,272.7 L1117.2,271.2 L1118.1,271.2 L1118.1,269.9 L1119.0,269.9 L1119.0,268.4 L1119.9,268.4 L1119.9,267.1 L1120.8,267.1 L1120.8,265.4 L1121.7,265.4 L1121.7,265.2 L1122.6,265.2 L1122.6,267.5 L1123.5,267.5 L1123.5,263.8 L1124.4,263.8 L1124.4,255.0 L1125.3,255.0 L1125.3,255.0 L1126.2,255.0 L1126.2,250.1 L1127.1,250.1 L1127.1,251.3 L1128.0,251.3 L1128.0,249.7 L1128.9,249.7 L1128.9,246.3 L1129.8,246.3 L1129.8,247.3 L1130.7,247.3 L1130.7,248.5 L1131.6,248.5 L1131.6,247.6 L1132.5,247.6 L1132.5,247.3 L1133.4,247.3 L1133.4,245.5 L1134.3,245.5 L1134.3,238.7 L1135.2,238.7 L1135.2,239.0 L1136.1,239.0 L1136.1,238.8 L1137.0,238.8 L1137.0,233.1 L1137.9,233.1 L1137.9,232.2 L1138.8,232.2 L1138.8,224.9 L1139.7,224.9 L1139.7,229.8 L1140.6,229.8 L1140.6,227.7 L1141.5,227.7 L1141.5,231.0 L1142.4,231.0 L1142.4,226.2 L1143.3,226.2 L1143.3,223.6 L1144.2,223.6 L1144.2,224.9 L1145.1,224.9 L1145.1,218.6 L1146.0,218.6 L1146.0,215.4 L1146.9,215.4 L1146.9,208.9 L1147.8,208.9 L1147.8,210.7 L1148.7,210.7 L1148.7,207.7 L1149.6,207.7 L1149.6,206.6 L1150.5,206.6 L1150.5,202.1 L1151.4,202.1 L1151.4,210.0 L1152.3,210.0 L1152.3,213.2 L1153.2,213.2 L1153.2,215.0 L1154.1,215.0 L1154.1,210.2 L1155.0,210.2 L1155.0,214.0 L1155.9,214.0 L1155.9,220.6 L1156.8,220.6 L1156.8,212.8 L1157.7,212.8 L1157.7,222.4 L1158.6,222.4 L1158.6,225.0 L1159.5,225.0 L1159.5,233.2 L1160.4,233.2 L1160.4,226.1 L1161.3,226.1 L1161.3,228.7 L1162.2,228.7 L1162.2,233.3 L1163.1,233.3 L1163.1,238.5 L1164.0,238.5 L1164.0,241.2 L1164.9,241.2 L1164.9,245.5 L1165.8,245.5 L1165.8,250.6 L1166.7,250.6 L1166.7,254.2 L1167.6,254.2 L1167.6,263.7 L1168.5,263.7 L1168.5,265.5 L1169.4,265.5 L1169.4,265.9 L1170.3,265.9 L1170.3,271.0 L1171.2,271.0 L1171.2,270.9 L1172.1,270.9 L1172.1,273.8 L1173.0,273.8 L1173.0,277.8 L1173.9,277.8 L1173.9,276.1 L1174.8,276.1 L1174.8,278.3 L1175.7,278.3 L1175.7,279.1 L1176.6,279.1 L1176.6,280.9 L1177.5,280.9 L1177.5,283.9 L1178.4,283.9 L1178.4,286.3 L1179.3,286.3 L1179.3,287.0 L1180.2,287.0 L1180.2,288.4 L1181.1,288.4 L1181.1,289.1 L1182.0,289.1 L1182.0,288.8 L1182.9,288.8 L1182.9,287.4 L1183.8,287.4 L1183.8,289.3 L1184.7,289.3 L1184.7,289.4 L1185.6,289.4 L1185.6,290.1 L1186.5,290.1 L1186.5,287.8 L1187.4,287.8 L1187.4,291.9 L1188.3,291.9 L1188.3,290.0 L1189.2,290.0 L1189.2,293.4 L1190.1,293.4 L1190.1,291.4 L1191.0,291.4 L1191.0,292.7 L1191.9,292.7 L1191.9,294.8 L1192.8,294.8 L1192.8,293.4 L1193.7,293.4 L1193.7,295.0 L1194.6,295.0 L1194.6,293.6 L1195.5,293.6 L1195.5,295.1 L1196.4,295.1 L1196.4,295.3 L1197.3,295.3 L1197.3,295.3 L1198.2,295.3 L1198.2,295.3 L1199.1,295.3 L1199.1,295.3 L1200.0,295.3 L1200.0,295.3 L1200.9,295.3 L1200.9,295.3 L1201.8,295.3 L1201.8,295.3 L1202.7,295.3 L1202.7,295.3 L1203.6,295.3 L1203.6,295.3 L1204.5,295.3 L1204.5,295.3 L1205.4,295.3 L1205.4,295.3 L1206.3,295.3 L1206.3,295.3 L1207.2,295.3 L1207.2,295.3 L1208.1,295.3 L1208.1,295.3 L1209.0,295.3 L1209.0,295.3 L1209.9,295.3 L1209.9,295.3 L1210.8,295.3 L1210.8,295.3 L1211.7,295.3 L1211.7,295.3 L1212.6,295.3 L1212.6,295.3 L1213.5,295.3 L1213.5,295.3 L1214.4,295.3 L1214.4,295.3 L1215.3,295.3 L1215.3,295.3 L1216.2,295.3 L1216.2,295.3 L1217.1,295.3 L1217.1,295.3 L1218.0,295.3 L1218.0,295.3 L1218.9,295.3 L1218.9,295.3 L1219.8,295.3 L1219.8,295.3 L1220.7,295.3 L1220.7,295.3 L1221.6,295.3 L1221.6,295.3 L1222.5,295.3 L1222.5,295.3 L1223.4,295.3 L1223.4,295.3 L1224.3,295.3 L1224.3,295.3 L1225.2,295.3 L1225.2,295.3 L1226.1,295.3 L1226.1,295.3 L1227.0,295.3 L1227.0,295.3 L1227.9,295.3 L1227.9,295.3 L1228.8,295.3 L1228.8,295.3 L1229.7,295.3 L1229.7,295.3 L1230.6,295.3 L1230.6,295.3 L1231.5,295.3 L1231.5,295.3 L1232.4,295.3 L1232.4,295.3 L1233.3,295.3 L1233.3,295.3 L1234.2,295.3 L1234.2,295.3 L1235.1,295.3 L1235.1,295.3 L1236.0,295.3 L1236.0,295.3 L1236.9,295.3 L1236.9,295.3 L1237.8,295.3 L1237.8,295.3 L1238.7,295.3 L1238.7,295.3 L1239.6,295.3 L1239.6,295.3 L1240.5,295.3 L1240.5,295.3 L1241.4,295.3 L1241.4,295.3 L1242.3,295.3 L1242.3,295.3 L1243.2,295.3 L1243.2,295.3 L1244.1,295.3 L1244.1,295.3 L1245.0,295.3 L1245.0,295.3 Z" fill="#50479c" stroke="#000" stroke-width="1.25" stroke-linejoin="miter" stroke-miterlimit="2"/>
<rect x="997.5" y="63.6" width="247.5" height="231.7" fill="none" stroke="#111" stroke-width="1.5"/>
<line x1="997.5" y1="62.6" x2="997.5" y2="296.3" stroke="#000" stroke-width="1.9"/>
<line x1="996.5" y1="295.3" x2="1245.7" y2="295.3" stroke="#000" stroke-width="1.9"/>
<path d="M990.0,295.3 h7.5 M993.0,286.1 h4.5 M993.0,276.9 h4.5 M993.0,267.7 h4.5 M993.0,258.5 h4.5 M990.0,249.2 h7.5 M993.0,240.0 h4.5 M993.0,230.8 h4.5 M993.0,221.6 h4.5 M993.0,212.4 h4.5 M990.0,203.2 h7.5 M993.0,194.0 h4.5 M993.0,184.8 h4.5 M993.0,175.5 h4.5 M993.0,166.3 h4.5 M990.0,157.1 h7.5 M993.0,147.9 h4.5 M993.0,138.7 h4.5 M993.0,129.5 h4.5 M993.0,120.3 h4.5 M990.0,111.1 h7.5 M993.0,101.8 h4.5 M993.0,92.6 h4.5 M993.0,83.4 h4.5 M993.0,74.2 h4.5 M990.0,65.0 h7.5" stroke="#111" stroke-width="1.3"/>
<path d="M997.5,295.3 v7.0 M1016.1,295.3 v4.5 M1027.0,295.3 v4.5 M1034.8,295.3 v4.5 M1040.7,295.3 v4.5 M1045.6,295.3 v4.5 M1049.8,295.3 v4.5 M1053.4,295.3 v4.5 M1056.5,295.3 v4.5 M1059.4,295.3 v7.0 M1078.0,295.3 v4.5 M1088.9,295.3 v4.5 M1096.6,295.3 v4.5 M1102.6,295.3 v4.5 M1107.5,295.3 v4.5 M1111.7,295.3 v4.5 M1115.3,295.3 v4.5 M1118.4,295.3 v4.5 M1121.2,295.3 v7.0 M1139.9,295.3 v4.5 M1150.8,295.3 v4.5 M1158.5,295.3 v4.5 M1164.5,295.3 v4.5 M1169.4,295.3 v4.5 M1173.5,295.3 v4.5 M1177.1,295.3 v4.5 M1180.3,295.3 v4.5 M1183.1,295.3 v7.0 M1201.8,295.3 v4.5 M1212.6,295.3 v4.5 M1220.4,295.3 v4.5 M1226.4,295.3 v4.5 M1231.3,295.3 v4.5 M1235.4,295.3 v4.5 M1239.0,295.3 v4.5 M1242.2,295.3 v4.5 M1245.0,295.3 v7" stroke="#111" stroke-width="1.3"/>
<text transform="translate(986.5,293.8) rotate(-90)" font-family='"Liberation Sans", sans-serif' font-size="14.3" text-anchor="middle" fill="#111">0</text>
<text transform="translate(986.5,247.7) rotate(-90)" font-family='"Liberation Sans", sans-serif' font-size="14.3" text-anchor="middle" fill="#111">40</text>
<text transform="translate(986.5,201.7) rotate(-90)" font-family='"Liberation Sans", sans-serif' font-size="14.3" text-anchor="middle" fill="#111">80</text>
<text transform="translate(986.5,155.6) rotate(-90)" font-family='"Liberation Sans", sans-serif' font-size="14.3" text-anchor="middle" fill="#111">120</text>
<text transform="translate(986.5,109.6) rotate(-90)" font-family='"Liberation Sans", sans-serif' font-size="14.3" text-anchor="middle" fill="#111">160</text>
<text transform="translate(986.5,63.5) rotate(-90)" font-family='"Liberation Sans", sans-serif' font-size="14.3" text-anchor="middle" fill="#111">200</text>
<text x="1000.3" y="318.5" font-family='"Liberation Sans", sans-serif' font-size="12.5" fill="#111" text-anchor="end">10</text>
<text x="1000.7" y="312.1" font-family='"Liberation Sans", sans-serif' font-size="12.5" fill="#111">0</text>
<text x="1062.2" y="318.5" font-family='"Liberation Sans", sans-serif' font-size="12.5" fill="#111" text-anchor="end">10</text>
<text x="1062.6" y="312.1" font-family='"Liberation Sans", sans-serif' font-size="12.5" fill="#111">1</text>
<text x="1124.0" y="318.5" font-family='"Liberation Sans", sans-serif' font-size="12.5" fill="#111" text-anchor="end">10</text>
<text x="1124.5" y="312.1" font-family='"Liberation Sans", sans-serif' font-size="12.5" fill="#111">2</text>
<text x="1185.9" y="318.5" font-family='"Liberation Sans", sans-serif' font-size="12.5" fill="#111" text-anchor="end">10</text>
<text x="1186.3" y="312.1" font-family='"Liberation Sans", sans-serif' font-size="12.5" fill="#111">3</text>
<text x="1247.8" y="318.5" font-family='"Liberation Sans", sans-serif' font-size="12.5" fill="#111" text-anchor="end">10</text>
<text x="1248.2" y="312.1" font-family='"Liberation Sans", sans-serif' font-size="12.5" fill="#111">4</text>
<text transform="translate(972.2,182.0) rotate(-90)" font-family='"Liberation Sans", sans-serif' font-size="14.3" text-anchor="middle" fill="#111">Counts</text>
<text x="1121.2" y="331.3" font-family='"Liberation Sans", sans-serif' font-size="13.2" text-anchor="middle" fill="#111">ROS</text>
<path d="M1082.4,177.8 V202.4 M1082.4,189.6 H1244.0" stroke="#111" stroke-width="1.5" fill="none"/>
<path d="M1244.0,177.8 V202.4" stroke="#111" stroke-width="2.2" fill="none"/>
<text x="1163.3" y="206.3" font-family='"Liberation Sans", sans-serif' font-size="12.5" fill="#222" textLength="17.2" lengthAdjust="spacingAndGlyphs">M1</text>
<text x="1063.3" y="46.2" font-family='"Liberation Serif", serif' font-size="31.5" fill="#000" stroke="#000" stroke-width="0.85" textLength="135.5" lengthAdjust="spacingAndGlyphs">DMSO-Nc</text>
<path d="M42.8,625.0 L42.8,625.0 L43.7,625.0 L43.7,625.0 L44.6,625.0 L44.6,625.0 L45.5,625.0 L45.5,625.0 L46.4,625.0 L46.4,625.0 L47.3,625.0 L47.3,625.0 L48.2,625.0 L48.2,625.0 L49.1,625.0 L49.1,625.0 L50.0,625.0 L50.0,625.0 L50.9,625.0 L50.9,625.0 L51.8,625.0 L51.8,625.0 L52.7,625.0 L52.7,625.0 L53.6,625.0 L53.6,625.0 L54.5,625.0 L54.5,625.0 L55.4,625.0 L55.4,625.0 L56.3,625.0 L56.3,625.0 L57.2,625.0 L57.2,625.0 L58.1,625.0 L58.1,625.0 L59.0,625.0 L59.0,625.0 L59.9,625.0 L59.9,625.0 L60.9,625.0 L60.9,625.0 L61.8,625.0 L61.8,625.0 L62.7,625.0 L62.7,625.0 L63.6,625.0 L63.6,625.0 L64.5,625.0 L64.5,625.0 L65.4,625.0 L65.4,625.0 L66.3,625.0 L66.3,625.0 L67.2,625.0 L67.2,625.0 L68.1,625.0 L68.1,625.0 L69.0,625.0 L69.0,625.0 L69.9,625.0 L69.9,625.0 L70.8,625.0 L70.8,625.0 L71.7,625.0 L71.7,625.0 L72.6,625.0 L72.6,625.0 L73.5,625.0 L73.5,625.0 L74.4,625.0 L74.4,625.0 L75.3,625.0 L75.3,625.0 L76.2,625.0 L76.2,625.0 L77.1,625.0 L77.1,625.0 L78.0,625.0 L78.0,625.0 L78.9,625.0 L78.9,625.0 L79.8,625.0 L79.8,625.0 L80.7,625.0 L80.7,625.0 L81.6,625.0 L81.6,624.9 L82.5,624.9 L82.5,624.8 L83.4,624.8 L83.4,624.7 L84.3,624.7 L84.3,623.0 L85.2,623.0 L85.2,623.5 L86.1,623.5 L86.1,623.8 L87.0,623.8 L87.0,625.0 L87.9,625.0 L87.9,624.8 L88.8,624.8 L88.8,625.0 L89.7,625.0 L89.7,625.0 L90.6,625.0 L90.6,623.7 L91.5,623.7 L91.5,625.0 L92.4,625.0 L92.4,624.4 L93.3,624.4 L93.3,624.0 L94.2,624.0 L94.2,622.8 L95.1,622.8 L95.1,623.5 L96.1,623.5 L96.1,623.8 L97.0,623.8 L97.0,623.5 L97.9,623.5 L97.9,622.5 L98.8,622.5 L98.8,623.7 L99.7,623.7 L99.7,624.2 L100.6,624.2 L100.6,624.1 L101.5,624.1 L101.5,623.1 L102.4,623.1 L102.4,623.2 L103.3,623.2 L103.3,622.2 L104.2,622.2 L104.2,622.2 L105.1,622.2 L105.1,622.0 L106.0,622.0 L106.0,623.3 L106.9,623.3 L106.9,623.1 L107.8,623.1 L107.8,622.8 L108.7,622.8 L108.7,620.8 L109.6,620.8 L109.6,622.6 L110.5,622.6 L110.5,622.0 L111.4,622.0 L111.4,623.4 L112.3,623.4 L112.3,621.9 L113.2,621.9 L113.2,621.5 L114.1,621.5 L114.1,620.0 L115.0,620.0 L115.0,621.6 L115.9,621.6 L115.9,617.8 L116.8,617.8 L116.8,621.3 L117.7,621.3 L117.7,619.3 L118.6,619.3 L118.6,620.1 L119.5,620.1 L119.5,619.9 L120.4,619.9 L120.4,620.0 L121.3,620.0 L121.3,618.0 L122.2,618.0 L122.2,619.8 L123.1,619.8 L123.1,619.9 L124.0,619.9 L124.0,621.0 L124.9,621.0 L124.9,619.7 L125.8,619.7 L125.8,619.4 L126.7,619.4 L126.7,619.4 L127.6,619.4 L127.6,620.0 L128.5,620.0 L128.5,619.8 L129.4,619.8 L129.4,619.8 L130.3,619.8 L130.3,618.9 L131.2,618.9 L131.2,618.7 L132.2,618.7 L132.2,617.6 L133.1,617.6 L133.1,618.4 L134.0,618.4 L134.0,620.1 L134.9,620.1 L134.9,619.7 L135.8,619.7 L135.8,618.1 L136.7,618.1 L136.7,619.6 L137.6,619.6 L137.6,617.8 L138.5,617.8 L138.5,616.3 L139.4,616.3 L139.4,617.5 L140.3,617.5 L140.3,618.0 L141.2,618.0 L141.2,620.0 L142.1,620.0 L142.1,618.1 L143.0,618.1 L143.0,615.3 L143.9,615.3 L143.9,615.1 L144.8,615.1 L144.8,614.5 L145.7,614.5 L145.7,614.0 L146.6,614.0 L146.6,614.9 L147.5,614.9 L147.5,613.0 L148.4,613.0 L148.4,612.8 L149.3,612.8 L149.3,612.4 L150.2,612.4 L150.2,612.9 L151.1,612.9 L151.1,612.3 L152.0,612.3 L152.0,611.9 L152.9,611.9 L152.9,611.8 L153.8,611.8 L153.8,611.9 L154.7,611.9 L154.7,605.6 L155.6,605.6 L155.6,608.0 L156.5,608.0 L156.5,607.7 L157.4,607.7 L157.4,606.9 L158.3,606.9 L158.3,602.1 L159.2,602.1 L159.2,602.8 L160.1,602.8 L160.1,600.2 L161.0,600.2 L161.0,600.2 L161.9,600.2 L161.9,599.0 L162.8,599.0 L162.8,599.0 L163.7,599.0 L163.7,598.6 L164.6,598.6 L164.6,599.9 L165.5,599.9 L165.5,596.9 L166.4,596.9 L166.4,596.2 L167.4,596.2 L167.4,595.1 L168.3,595.1 L168.3,595.3 L169.2,595.3 L169.2,595.4 L170.1,595.4 L170.1,590.6 L171.0,590.6 L171.0,595.3 L171.9,595.3 L171.9,594.6 L172.8,594.6 L172.8,593.0 L173.7,593.0 L173.7,586.7 L174.6,586.7 L174.6,584.4 L175.5,584.4 L175.5,586.3 L176.4,586.3 L176.4,582.8 L177.3,582.8 L177.3,582.0 L178.2,582.0 L178.2,577.5 L179.1,577.5 L179.1,580.0 L180.0,580.0 L180.0,571.8 L180.9,571.8 L180.9,574.5 L181.8,574.5 L181.8,572.1 L182.7,572.1 L182.7,573.5 L183.6,573.5 L183.6,572.3 L184.5,572.3 L184.5,567.8 L185.4,567.8 L185.4,569.9 L186.3,569.9 L186.3,555.7 L187.2,555.7 L187.2,543.0 L188.1,543.0 L188.1,558.5 L189.0,558.5 L189.0,555.7 L189.9,555.7 L189.9,553.8 L190.8,553.8 L190.8,550.8 L191.7,550.8 L191.7,557.1 L192.6,557.1 L192.6,556.9 L193.5,556.9 L193.5,548.7 L194.4,548.7 L194.4,544.8 L195.3,544.8 L195.3,538.8 L196.2,538.8 L196.2,528.3 L197.1,528.3 L197.1,531.1 L198.0,531.1 L198.0,529.5 L198.9,529.5 L198.9,539.3 L199.8,539.3 L199.8,543.4 L200.7,543.4 L200.7,545.6 L201.6,545.6 L201.6,544.0 L202.6,544.0 L202.6,549.8 L203.5,549.8 L203.5,545.2 L204.4,545.2 L204.4,545.7 L205.3,545.7 L205.3,544.5 L206.2,544.5 L206.2,552.1 L207.1,552.1 L207.1,558.9 L208.0,558.9 L208.0,565.0 L208.9,565.0 L208.9,568.1 L209.8,568.1 L209.8,576.8 L210.7,576.8 L210.7,581.3 L211.6,581.3 L211.6,583.8 L212.5,583.8 L212.5,588.5 L213.4,588.5 L213.4,591.2 L214.3,591.2 L214.3,596.3 L215.2,596.3 L215.2,602.9 L216.1,602.9 L216.1,601.5 L217.0,601.5 L217.0,599.4 L217.9,599.4 L217.9,604.8 L218.8,604.8 L218.8,603.3 L219.7,603.3 L219.7,606.2 L220.6,606.2 L220.6,611.3 L221.5,611.3 L221.5,608.2 L222.4,608.2 L222.4,612.4 L223.3,612.4 L223.3,609.9 L224.2,609.9 L224.2,615.0 L225.1,615.0 L225.1,615.7 L226.0,615.7 L226.0,615.5 L226.9,615.5 L226.9,616.7 L227.8,616.7 L227.8,617.6 L228.7,617.6 L228.7,615.2 L229.6,615.2 L229.6,617.4 L230.5,617.4 L230.5,620.0 L231.4,620.0 L231.4,619.8 L232.3,619.8 L232.3,618.1 L233.2,618.1 L233.2,618.9 L234.1,618.9 L234.1,619.8 L235.0,619.8 L235.0,622.6 L235.9,622.6 L235.9,622.6 L236.8,622.6 L236.8,622.0 L237.7,622.0 L237.7,622.2 L238.7,622.2 L238.7,621.0 L239.6,621.0 L239.6,622.0 L240.5,622.0 L240.5,622.7 L241.4,622.7 L241.4,622.8 L242.3,622.8 L242.3,625.0 L243.2,625.0 L243.2,624.7 L244.1,624.7 L244.1,624.9 L245.0,624.9 L245.0,625.0 L245.9,625.0 L245.9,625.0 L246.8,625.0 L246.8,625.0 L247.7,625.0 L247.7,625.0 L248.6,625.0 L248.6,625.0 L249.5,625.0 L249.5,625.0 L250.4,625.0 L250.4,625.0 L251.3,625.0 L251.3,625.0 L252.2,625.0 L252.2,625.0 L253.1,625.0 L253.1,625.0 L254.0,625.0 L254.0,625.0 L254.9,625.0 L254.9,625.0 L255.8,625.0 L255.8,625.0 L256.7,625.0 L256.7,625.0 L257.6,625.0 L257.6,625.0 L258.5,625.0 L258.5,625.0 L259.4,625.0 L259.4,625.0 L260.3,625.0 L260.3,625.0 L261.2,625.0 L261.2,625.0 L262.1,625.0 L262.1,625.0 L263.0,625.0 L263.0,625.0 L263.9,625.0 L263.9,625.0 L264.8,625.0 L264.8,625.0 L265.7,625.0 L265.7,625.0 L266.6,625.0 L266.6,625.0 L267.5,625.0 L267.5,625.0 L268.4,625.0 L268.4,625.0 L269.3,625.0 L269.3,625.0 L270.2,625.0 L270.2,625.0 L271.1,625.0 L271.1,625.0 L272.0,625.0 L272.0,625.0 L272.9,625.0 L272.9,625.0 L273.9,625.0 L273.9,625.0 L274.8,625.0 L274.8,625.0 L275.7,625.0 L275.7,625.0 L276.6,625.0 L276.6,625.0 L277.5,625.0 L277.5,625.0 L278.4,625.0 L278.4,625.0 L279.3,625.0 L279.3,625.0 L280.2,625.0 L280.2,625.0 L281.1,625.0 L281.1,625.0 L282.0,625.0 L282.0,625.0 L282.9,625.0 L282.9,625.0 L283.8,625.0 L283.8,625.0 L284.7,625.0 L284.7,625.0 L285.6,625.0 L285.6,625.0 L286.5,625.0 L286.5,625.0 L287.4,625.0 L287.4,625.0 L288.3,625.0 L288.3,625.0 L289.2,625.0 L289.2,625.0 L290.1,625.0 L290.1,625.0 L291.0,625.0 L291.0,625.0 Z" fill="#50479c" stroke="#000" stroke-width="1.25" stroke-linejoin="miter" stroke-miterlimit="2"/>
<rect x="42.8" y="395.0" width="248.2" height="230.0" fill="none" stroke="#111" stroke-width="1.5"/>
<line x1="42.8" y1="394.0" x2="42.8" y2="626.0" stroke="#000" stroke-width="1.9"/>
<line x1="41.8" y1="625.0" x2="291.7" y2="625.0" stroke="#000" stroke-width="1.9"/>
<path d="M35.3,625.0 h7.5 M38.3,615.9 h4.5 M38.3,606.7 h4.5 M38.3,597.6 h4.5 M38.3,588.4 h4.5 M35.3,579.3 h7.5 M38.3,570.1 h4.5 M38.3,561.0 h4.5 M38.3,551.8 h4.5 M38.3,542.7 h4.5 M35.3,533.6 h7.5 M38.3,524.4 h4.5 M38.3,515.3 h4.5 M38.3,506.1 h4.5 M38.3,497.0 h4.5 M35.3,487.8 h7.5 M38.3,478.7 h4.5 M38.3,469.6 h4.5 M38.3,460.4 h4.5 M38.3,451.3 h4.5 M35.3,442.1 h7.5 M38.3,433.0 h4.5 M38.3,423.8 h4.5 M38.3,414.7 h4.5 M38.3,405.5 h4.5 M35.3,396.4 h7.5" stroke="#111" stroke-width="1.3"/>
<path d="M42.8,625.0 v7.0 M61.5,625.0 v4.5 M72.4,625.0 v4.5 M80.2,625.0 v4.5 M86.2,625.0 v4.5 M91.1,625.0 v4.5 M95.2,625.0 v4.5 M98.8,625.0 v4.5 M102.0,625.0 v4.5 M104.8,625.0 v7.0 M123.5,625.0 v4.5 M134.5,625.0 v4.5 M142.2,625.0 v4.5 M148.2,625.0 v4.5 M153.1,625.0 v4.5 M157.3,625.0 v4.5 M160.9,625.0 v4.5 M164.1,625.0 v4.5 M166.9,625.0 v7.0 M185.6,625.0 v4.5 M196.5,625.0 v4.5 M204.3,625.0 v4.5 M210.3,625.0 v4.5 M215.2,625.0 v4.5 M219.3,625.0 v4.5 M222.9,625.0 v4.5 M226.1,625.0 v4.5 M228.9,625.0 v7.0 M247.6,625.0 v4.5 M258.6,625.0 v4.5 M266.3,625.0 v4.5 M272.3,625.0 v4.5 M277.2,625.0 v4.5 M281.4,625.0 v4.5 M285.0,625.0 v4.5 M288.2,625.0 v4.5 M291.0,625.0 v7" stroke="#111" stroke-width="1.3"/>
<text transform="translate(31.8,623.5) rotate(-90)" font-family='"Liberation Sans", sans-serif' font-size="14.3" text-anchor="middle" fill="#111">0</text>
<text transform="translate(31.8,577.8) rotate(-90)" font-family='"Liberation Sans", sans-serif' font-size="14.3" text-anchor="middle" fill="#111">40</text>
<text transform="translate(31.8,532.1) rotate(-90)" font-family='"Liberation Sans", sans-serif' font-size="14.3" text-anchor="middle" fill="#111">80</text>
<text transform="translate(31.8,486.3) rotate(-90)" font-family='"Liberation Sans", sans-serif' font-size="14.3" text-anchor="middle" fill="#111">120</text>
<text transform="translate(31.8,440.6) rotate(-90)" font-family='"Liberation Sans", sans-serif' font-size="14.3" text-anchor="middle" fill="#111">160</text>
<text transform="translate(31.8,394.9) rotate(-90)" font-family='"Liberation Sans", sans-serif' font-size="14.3" text-anchor="middle" fill="#111">200</text>
<text x="45.6" y="648.2" font-family='"Liberation Sans", sans-serif' font-size="12.5" fill="#111" text-anchor="end">10</text>
<text x="46.0" y="641.8" font-family='"Liberation Sans", sans-serif' font-size="12.5" fill="#111">0</text>
<text x="107.6" y="648.2" font-family='"Liberation Sans", sans-serif' font-size="12.5" fill="#111" text-anchor="end">10</text>
<text x="108.0" y="641.8" font-family='"Liberation Sans", sans-serif' font-size="12.5" fill="#111">1</text>
<text x="169.7" y="648.2" font-family='"Liberation Sans", sans-serif' font-size="12.5" fill="#111" text-anchor="end">10</text>
<text x="170.1" y="641.8" font-family='"Liberation Sans", sans-serif' font-size="12.5" fill="#111">2</text>
<text x="231.8" y="648.2" font-family='"Liberation Sans", sans-serif' font-size="12.5" fill="#111" text-anchor="end">10</text>
<text x="232.1" y="641.8" font-family='"Liberation Sans", sans-serif' font-size="12.5" fill="#111">3</text>
<text x="293.8" y="648.2" font-family='"Liberation Sans", sans-serif' font-size="12.5" fill="#111" text-anchor="end">10</text>
<text x="294.2" y="641.8" font-family='"Liberation Sans", sans-serif' font-size="12.5" fill="#111">4</text>
<text transform="translate(17.0,513.6) rotate(-90)" font-family='"Liberation Sans", sans-serif' font-size="14.3" text-anchor="middle" fill="#111">Counts</text>
<text x="166.9" y="661.0" font-family='"Liberation Sans", sans-serif' font-size="13.2" text-anchor="middle" fill="#111">ROS</text>
<path d="M127.2,508.7 V534.1 M127.2,521.2 H290.2" stroke="#111" stroke-width="1.5" fill="none"/>
<path d="M290.2,508.7 V534.1" stroke="#111" stroke-width="2.2" fill="none"/>
<text x="209.0" y="537.2" font-family='"Liberation Sans", sans-serif' font-size="12.5" fill="#222" textLength="17.3" lengthAdjust="spacingAndGlyphs">M1</text>
<text x="86.0" y="383.6" font-family='"Liberation Serif", serif' font-size="31.5" fill="#000" stroke="#000" stroke-width="0.85" textLength="140.6" lengthAdjust="spacingAndGlyphs">Mdivi1-Nc</text>
<path d="M361.4,630.0 L361.4,628.5 L362.3,628.5 L362.3,628.9 L363.2,628.9 L363.2,629.4 L364.1,629.4 L364.1,627.7 L365.0,627.7 L365.0,628.5 L365.9,628.5 L365.9,629.7 L366.8,629.7 L366.8,629.2 L367.7,629.2 L367.7,629.6 L368.6,629.6 L368.6,629.4 L369.5,629.4 L369.5,630.0 L370.4,630.0 L370.4,628.0 L371.3,628.0 L371.3,630.0 L372.2,630.0 L372.2,629.6 L373.1,629.6 L373.1,630.0 L374.0,630.0 L374.0,629.7 L374.9,629.7 L374.9,628.5 L375.8,628.5 L375.8,628.7 L376.7,628.7 L376.7,627.6 L377.6,627.6 L377.6,629.1 L378.5,629.1 L378.5,630.0 L379.4,630.0 L379.4,628.9 L380.3,628.9 L380.3,629.2 L381.2,629.2 L381.2,629.8 L382.1,629.8 L382.1,630.0 L383.0,630.0 L383.0,630.0 L383.9,630.0 L383.9,628.6 L384.8,628.6 L384.8,627.0 L385.7,627.0 L385.7,630.0 L386.7,630.0 L386.7,628.2 L387.6,628.2 L387.6,630.0 L388.5,630.0 L388.5,629.6 L389.4,629.6 L389.4,629.2 L390.3,629.2 L390.3,628.3 L391.2,628.3 L391.2,627.9 L392.1,627.9 L392.1,628.2 L393.0,628.2 L393.0,629.3 L393.9,629.3 L393.9,628.1 L394.8,628.1 L394.8,627.9 L395.7,627.9 L395.7,627.6 L396.6,627.6 L396.6,626.8 L397.5,626.8 L397.5,627.0 L398.4,627.0 L398.4,627.2 L399.3,627.2 L399.3,628.3 L400.2,628.3 L400.2,628.2 L401.1,628.2 L401.1,627.8 L402.0,627.8 L402.0,628.3 L402.9,628.3 L402.9,627.7 L403.8,627.7 L403.8,627.3 L404.7,627.3 L404.7,627.8 L405.6,627.8 L405.6,627.3 L406.5,627.3 L406.5,627.3 L407.4,627.3 L407.4,626.9 L408.3,626.9 L408.3,627.3 L409.2,627.3 L409.2,627.4 L410.1,627.4 L410.1,625.7 L411.0,625.7 L411.0,628.2 L411.9,628.2 L411.9,626.6 L412.8,626.6 L412.8,627.6 L413.7,627.6 L413.7,627.8 L414.6,627.8 L414.6,626.8 L415.5,626.8 L415.5,627.9 L416.4,627.9 L416.4,625.7 L417.3,625.7 L417.3,625.5 L418.2,625.5 L418.2,626.1 L419.1,626.1 L419.1,626.1 L420.0,626.1 L420.0,628.1 L420.9,628.1 L420.9,625.9 L421.8,625.9 L421.8,627.4 L422.7,627.4 L422.7,625.3 L423.6,625.3 L423.6,627.1 L424.5,627.1 L424.5,626.7 L425.4,626.7 L425.4,626.9 L426.3,626.9 L426.3,627.1 L427.2,627.1 L427.2,623.8 L428.1,623.8 L428.1,625.4 L429.0,625.4 L429.0,626.7 L429.9,626.7 L429.9,624.8 L430.8,624.8 L430.8,624.5 L431.7,624.5 L431.7,624.7 L432.6,624.7 L432.6,621.7 L433.5,621.7 L433.5,626.2 L434.4,626.2 L434.4,624.0 L435.3,624.0 L435.3,621.3 L436.3,621.3 L436.3,623.6 L437.2,623.6 L437.2,623.6 L438.1,623.6 L438.1,624.7 L439.0,624.7 L439.0,621.9 L439.9,621.9 L439.9,624.1 L440.8,624.1 L440.8,623.0 L441.7,623.0 L441.7,623.5 L442.6,623.5 L442.6,623.6 L443.5,623.6 L443.5,621.3 L444.4,621.3 L444.4,621.5 L445.3,621.5 L445.3,619.9 L446.2,619.9 L446.2,618.4 L447.1,618.4 L447.1,619.4 L448.0,619.4 L448.0,613.1 L448.9,613.1 L448.9,618.0 L449.8,618.0 L449.8,618.6 L450.7,618.6 L450.7,618.1 L451.6,618.1 L451.6,615.4 L452.5,615.4 L452.5,616.1 L453.4,616.1 L453.4,616.4 L454.3,616.4 L454.3,614.4 L455.2,614.4 L455.2,615.9 L456.1,615.9 L456.1,613.9 L457.0,613.9 L457.0,611.7 L457.9,611.7 L457.9,613.2 L458.8,613.2 L458.8,607.0 L459.7,607.0 L459.7,611.6 L460.6,611.6 L460.6,609.6 L461.5,609.6 L461.5,608.3 L462.4,608.3 L462.4,605.7 L463.3,605.7 L463.3,608.5 L464.2,608.5 L464.2,602.0 L465.1,602.0 L465.1,602.2 L466.0,602.2 L466.0,598.0 L466.9,598.0 L466.9,598.9 L467.8,598.9 L467.8,601.5 L468.7,601.5 L468.7,600.2 L469.6,600.2 L469.6,596.4 L470.5,596.4 L470.5,592.6 L471.4,592.6 L471.4,592.1 L472.3,592.1 L472.3,590.0 L473.2,590.0 L473.2,590.7 L474.1,590.7 L474.1,593.9 L475.0,593.9 L475.0,591.4 L475.9,591.4 L475.9,589.1 L476.8,589.1 L476.8,589.2 L477.7,589.2 L477.7,586.6 L478.6,586.6 L478.6,590.4 L479.5,590.4 L479.5,580.6 L480.4,580.6 L480.4,588.1 L481.3,588.1 L481.3,579.9 L482.2,579.9 L482.2,581.7 L483.1,581.7 L483.1,577.6 L484.0,577.6 L484.0,582.4 L484.9,582.4 L484.9,583.3 L485.9,583.3 L485.9,575.6 L486.8,575.6 L486.8,577.0 L487.7,577.0 L487.7,582.8 L488.6,582.8 L488.6,578.5 L489.5,578.5 L489.5,586.1 L490.4,586.1 L490.4,583.9 L491.3,583.9 L491.3,582.2 L492.2,582.2 L492.2,587.9 L493.1,587.9 L493.1,588.4 L494.0,588.4 L494.0,586.1 L494.9,586.1 L494.9,584.1 L495.8,584.1 L495.8,581.7 L496.7,581.7 L496.7,578.9 L497.6,578.9 L497.6,578.7 L498.5,578.7 L498.5,581.7 L499.4,581.7 L499.4,578.3 L500.3,578.3 L500.3,575.8 L501.2,575.8 L501.2,569.3 L502.1,569.3 L502.1,574.1 L503.0,574.1 L503.0,568.1 L503.9,568.1 L503.9,571.5 L504.8,571.5 L504.8,567.3 L505.7,567.3 L505.7,564.3 L506.6,564.3 L506.6,572.4 L507.5,572.4 L507.5,572.0 L508.4,572.0 L508.4,574.9 L509.3,574.9 L509.3,573.7 L510.2,573.7 L510.2,563.5 L511.1,563.5 L511.1,559.3 L512.0,559.3 L512.0,559.2 L512.9,559.2 L512.9,558.6 L513.8,558.6 L513.8,561.7 L514.7,561.7 L514.7,568.7 L515.6,568.7 L515.6,565.2 L516.5,565.2 L516.5,566.6 L517.4,566.6 L517.4,566.2 L518.3,566.2 L518.3,566.8 L519.2,566.8 L519.2,569.9 L520.1,569.9 L520.1,572.7 L521.0,572.7 L521.0,577.1 L521.9,577.1 L521.9,579.6 L522.8,579.6 L522.8,578.5 L523.7,578.5 L523.7,582.7 L524.6,582.7 L524.6,586.8 L525.5,586.8 L525.5,590.5 L526.4,590.5 L526.4,595.1 L527.3,595.1 L527.3,593.6 L528.2,593.6 L528.2,598.3 L529.1,598.3 L529.1,599.0 L530.0,599.0 L530.0,603.4 L530.9,603.4 L530.9,606.7 L531.8,606.7 L531.8,607.8 L532.7,607.8 L532.7,606.1 L533.6,606.1 L533.6,611.1 L534.6,611.1 L534.6,614.9 L535.5,614.9 L535.5,617.4 L536.4,617.4 L536.4,617.7 L537.3,617.7 L537.3,620.7 L538.2,620.7 L538.2,621.9 L539.1,621.9 L539.1,623.4 L540.0,623.4 L540.0,623.9 L540.9,623.9 L540.9,622.9 L541.8,622.9 L541.8,625.6 L542.7,625.6 L542.7,624.5 L543.6,624.5 L543.6,625.3 L544.5,625.3 L544.5,625.8 L545.4,625.8 L545.4,627.8 L546.3,627.8 L546.3,626.9 L547.2,626.9 L547.2,628.6 L548.1,628.6 L548.1,628.9 L549.0,628.9 L549.0,628.4 L549.9,628.4 L549.9,628.9 L550.8,628.9 L550.8,629.0 L551.7,629.0 L551.7,629.5 L552.6,629.5 L552.6,628.1 L553.5,628.1 L553.5,627.8 L554.4,627.8 L554.4,628.5 L555.3,628.5 L555.3,629.0 L556.2,629.0 L556.2,629.5 L557.1,629.5 L557.1,629.9 L558.0,629.9 L558.0,630.0 L558.9,630.0 L558.9,630.0 L559.8,630.0 L559.8,630.0 L560.7,630.0 L560.7,630.0 L561.6,630.0 L561.6,630.0 L562.5,630.0 L562.5,630.0 L563.4,630.0 L563.4,630.0 L564.3,630.0 L564.3,630.0 L565.2,630.0 L565.2,630.0 L566.1,630.0 L566.1,630.0 L567.0,630.0 L567.0,630.0 L567.9,630.0 L567.9,630.0 L568.8,630.0 L568.8,630.0 L569.7,630.0 L569.7,630.0 L570.6,630.0 L570.6,630.0 L571.5,630.0 L571.5,630.0 L572.4,630.0 L572.4,630.0 L573.3,630.0 L573.3,630.0 L574.2,630.0 L574.2,630.0 L575.1,630.0 L575.1,630.0 L576.0,630.0 L576.0,630.0 L576.9,630.0 L576.9,630.0 L577.8,630.0 L577.8,630.0 L578.7,630.0 L578.7,630.0 L579.6,630.0 L579.6,630.0 L580.5,630.0 L580.5,630.0 L581.4,630.0 L581.4,630.0 L582.3,630.0 L582.3,630.0 L583.2,630.0 L583.2,630.0 L584.2,630.0 L584.2,630.0 L585.1,630.0 L585.1,630.0 L586.0,630.0 L586.0,630.0 L586.9,630.0 L586.9,630.0 L587.8,630.0 L587.8,630.0 L588.7,630.0 L588.7,630.0 L589.6,630.0 L589.6,630.0 L590.5,630.0 L590.5,630.0 L591.4,630.0 L591.4,630.0 L592.3,630.0 L592.3,630.0 L593.2,630.0 L593.2,630.0 L594.1,630.0 L594.1,630.0 L595.0,630.0 L595.0,630.0 L595.9,630.0 L595.9,630.0 L596.8,630.0 L596.8,630.0 L597.7,630.0 L597.7,630.0 L598.6,630.0 L598.6,630.0 L599.5,630.0 L599.5,630.0 L600.4,630.0 L600.4,630.0 L601.3,630.0 L601.3,630.0 L602.2,630.0 L602.2,630.0 L603.1,630.0 L603.1,630.0 L604.0,630.0 L604.0,630.0 L604.9,630.0 L604.9,630.0 L605.8,630.0 L605.8,630.0 L606.7,630.0 L606.7,630.0 L607.6,630.0 L607.6,630.0 L608.5,630.0 L608.5,630.0 Z" fill="#50479c" stroke="#000" stroke-width="1.25" stroke-linejoin="miter" stroke-miterlimit="2"/>
<rect x="361.4" y="400.2" width="247.1" height="229.8" fill="none" stroke="#111" stroke-width="1.5"/>
<line x1="361.4" y1="399.2" x2="361.4" y2="631.0" stroke="#000" stroke-width="1.9"/>
<line x1="360.4" y1="630.0" x2="609.2" y2="630.0" stroke="#000" stroke-width="1.9"/>
<path d="M353.9,630.0 h7.5 M356.9,620.9 h4.5 M356.9,611.7 h4.5 M356.9,602.6 h4.5 M356.9,593.5 h4.5 M353.9,584.3 h7.5 M356.9,575.2 h4.5 M356.9,566.0 h4.5 M356.9,556.9 h4.5 M356.9,547.8 h4.5 M353.9,538.6 h7.5 M356.9,529.5 h4.5 M356.9,520.4 h4.5 M356.9,511.2 h4.5 M356.9,502.1 h4.5 M353.9,493.0 h7.5 M356.9,483.8 h4.5 M356.9,474.7 h4.5 M356.9,465.6 h4.5 M356.9,456.4 h4.5 M353.9,447.3 h7.5 M356.9,438.1 h4.5 M356.9,429.0 h4.5 M356.9,419.9 h4.5 M356.9,410.7 h4.5 M353.9,401.6 h7.5" stroke="#111" stroke-width="1.3"/>
<path d="M361.4,630.0 v7.0 M380.0,630.0 v4.5 M390.9,630.0 v4.5 M398.6,630.0 v4.5 M404.6,630.0 v4.5 M409.5,630.0 v4.5 M413.6,630.0 v4.5 M417.2,630.0 v4.5 M420.3,630.0 v4.5 M423.2,630.0 v7.0 M441.8,630.0 v4.5 M452.6,630.0 v4.5 M460.4,630.0 v4.5 M466.4,630.0 v4.5 M471.2,630.0 v4.5 M475.4,630.0 v4.5 M479.0,630.0 v4.5 M482.1,630.0 v4.5 M484.9,630.0 v7.0 M503.5,630.0 v4.5 M514.4,630.0 v4.5 M522.1,630.0 v4.5 M528.1,630.0 v4.5 M533.0,630.0 v4.5 M537.2,630.0 v4.5 M540.7,630.0 v4.5 M543.9,630.0 v4.5 M546.7,630.0 v7.0 M565.3,630.0 v4.5 M576.2,630.0 v4.5 M583.9,630.0 v4.5 M589.9,630.0 v4.5 M594.8,630.0 v4.5 M598.9,630.0 v4.5 M602.5,630.0 v4.5 M605.7,630.0 v4.5 M608.5,630.0 v7" stroke="#111" stroke-width="1.3"/>
<text transform="translate(350.4,628.5) rotate(-90)" font-family='"Liberation Sans", sans-serif' font-size="14.3" text-anchor="middle" fill="#111">0</text>
<text transform="translate(350.4,582.8) rotate(-90)" font-family='"Liberation Sans", sans-serif' font-size="14.3" text-anchor="middle" fill="#111">40</text>
<text transform="translate(350.4,537.1) rotate(-90)" font-family='"Liberation Sans", sans-serif' font-size="14.3" text-anchor="middle" fill="#111">80</text>
<text transform="translate(350.4,491.5) rotate(-90)" font-family='"Liberation Sans", sans-serif' font-size="14.3" text-anchor="middle" fill="#111">120</text>
<text transform="translate(350.4,445.8) rotate(-90)" font-family='"Liberation Sans", sans-serif' font-size="14.3" text-anchor="middle" fill="#111">160</text>
<text transform="translate(350.4,400.1) rotate(-90)" font-family='"Liberation Sans", sans-serif' font-size="14.3" text-anchor="middle" fill="#111">200</text>
<text x="364.2" y="653.2" font-family='"Liberation Sans", sans-serif' font-size="12.5" fill="#111" text-anchor="end">10</text>
<text x="364.6" y="646.8" font-family='"Liberation Sans", sans-serif' font-size="12.5" fill="#111">0</text>
<text x="426.0" y="653.2" font-family='"Liberation Sans", sans-serif' font-size="12.5" fill="#111" text-anchor="end">10</text>
<text x="426.4" y="646.8" font-family='"Liberation Sans", sans-serif' font-size="12.5" fill="#111">1</text>
<text x="487.8" y="653.2" font-family='"Liberation Sans", sans-serif' font-size="12.5" fill="#111" text-anchor="end">10</text>
<text x="488.1" y="646.8" font-family='"Liberation Sans", sans-serif' font-size="12.5" fill="#111">2</text>
<text x="549.5" y="653.2" font-family='"Liberation Sans", sans-serif' font-size="12.5" fill="#111" text-anchor="end">10</text>
<text x="549.9" y="646.8" font-family='"Liberation Sans", sans-serif' font-size="12.5" fill="#111">3</text>
<text x="611.3" y="653.2" font-family='"Liberation Sans", sans-serif' font-size="12.5" fill="#111" text-anchor="end">10</text>
<text x="611.7" y="646.8" font-family='"Liberation Sans", sans-serif' font-size="12.5" fill="#111">4</text>
<text transform="translate(335.3,518.0) rotate(-90)" font-family='"Liberation Sans", sans-serif' font-size="14.3" text-anchor="middle" fill="#111">Counts</text>
<text x="484.9" y="666.0" font-family='"Liberation Sans", sans-serif' font-size="13.2" text-anchor="middle" fill="#111">ROS</text>
<path d="M446.3,513.4 V539.3 M446.3,526.1 H607.2" stroke="#111" stroke-width="1.5" fill="none"/>
<path d="M607.2,513.4 V539.3" stroke="#111" stroke-width="2.2" fill="none"/>
<text x="527.5" y="542.4" font-family='"Liberation Sans", sans-serif' font-size="12.5" fill="#222" textLength="17.4" lengthAdjust="spacingAndGlyphs">M1</text>
<text x="450.5" y="383.6" font-family='"Liberation Serif", serif' font-size="31.5" fill="#000" stroke="#000" stroke-width="0.85" textLength="126.4" lengthAdjust="spacingAndGlyphs">CCCP-Nc</text>
<path d="M677.2,628.0 L677.2,627.3 L678.1,627.3 L678.1,628.0 L679.0,628.0 L679.0,626.8 L679.9,626.8 L679.9,626.9 L680.8,626.9 L680.8,626.8 L681.7,626.8 L681.7,626.6 L682.6,626.6 L682.6,625.5 L683.5,625.5 L683.5,627.1 L684.4,627.1 L684.4,628.0 L685.3,628.0 L685.3,627.5 L686.2,627.5 L686.2,626.2 L687.1,626.2 L687.1,626.7 L688.0,626.7 L688.0,627.3 L688.9,627.3 L688.9,627.1 L689.8,627.1 L689.8,628.0 L690.7,628.0 L690.7,626.9 L691.6,626.9 L691.6,626.0 L692.5,626.0 L692.5,627.5 L693.4,627.5 L693.4,626.6 L694.3,626.6 L694.3,626.8 L695.3,626.8 L695.3,627.7 L696.2,627.7 L696.2,627.4 L697.1,627.4 L697.1,627.7 L698.0,627.7 L698.0,627.4 L698.9,627.4 L698.9,626.0 L699.8,626.0 L699.8,628.0 L700.7,628.0 L700.7,627.8 L701.6,627.8 L701.6,627.3 L702.5,627.3 L702.5,627.1 L703.4,627.1 L703.4,628.0 L704.3,628.0 L704.3,627.4 L705.2,627.4 L705.2,627.2 L706.1,627.2 L706.1,625.3 L707.0,625.3 L707.0,625.5 L707.9,625.5 L707.9,626.2 L708.8,626.2 L708.8,626.8 L709.7,626.8 L709.7,627.2 L710.6,627.2 L710.6,626.7 L711.5,626.7 L711.5,625.8 L712.4,625.8 L712.4,627.7 L713.3,627.7 L713.3,628.0 L714.2,628.0 L714.2,626.9 L715.1,626.9 L715.1,626.7 L716.0,626.7 L716.0,627.0 L716.9,627.0 L716.9,627.8 L717.8,627.8 L717.8,626.4 L718.7,626.4 L718.7,627.1 L719.6,627.1 L719.6,625.5 L720.5,625.5 L720.5,624.8 L721.4,624.8 L721.4,626.5 L722.3,626.5 L722.3,628.0 L723.2,628.0 L723.2,625.1 L724.1,625.1 L724.1,627.4 L725.0,627.4 L725.0,626.6 L725.9,626.6 L725.9,627.2 L726.8,627.2 L726.8,627.1 L727.7,627.1 L727.7,626.1 L728.6,626.1 L728.6,625.4 L729.5,625.4 L729.5,626.2 L730.5,626.2 L730.5,626.1 L731.4,626.1 L731.4,627.1 L732.3,627.1 L732.3,627.8 L733.2,627.8 L733.2,627.1 L734.1,627.1 L734.1,624.4 L735.0,624.4 L735.0,623.9 L735.9,623.9 L735.9,623.5 L736.8,623.5 L736.8,622.5 L737.7,622.5 L737.7,620.2 L738.6,620.2 L738.6,623.8 L739.5,623.8 L739.5,620.4 L740.4,620.4 L740.4,622.6 L741.3,622.6 L741.3,627.6 L742.2,627.6 L742.2,622.7 L743.1,622.7 L743.1,624.4 L744.0,624.4 L744.0,622.3 L744.9,622.3 L744.9,624.0 L745.8,624.0 L745.8,623.4 L746.7,623.4 L746.7,624.0 L747.6,624.0 L747.6,622.3 L748.5,622.3 L748.5,622.0 L749.4,622.0 L749.4,621.4 L750.3,621.4 L750.3,623.4 L751.2,623.4 L751.2,622.3 L752.1,622.3 L752.1,622.3 L753.0,622.3 L753.0,623.7 L753.9,623.7 L753.9,623.9 L754.8,623.9 L754.8,621.7 L755.7,621.7 L755.7,622.0 L756.6,622.0 L756.6,621.4 L757.5,621.4 L757.5,621.9 L758.4,621.9 L758.4,622.5 L759.3,622.5 L759.3,619.4 L760.2,619.4 L760.2,619.0 L761.1,619.0 L761.1,618.9 L762.0,618.9 L762.0,614.5 L762.9,614.5 L762.9,617.7 L763.8,617.7 L763.8,615.0 L764.7,615.0 L764.7,616.9 L765.6,616.9 L765.6,615.9 L766.6,615.9 L766.6,618.6 L767.5,618.6 L767.5,614.7 L768.4,614.7 L768.4,610.8 L769.3,610.8 L769.3,609.1 L770.2,609.1 L770.2,604.7 L771.1,604.7 L771.1,608.7 L772.0,608.7 L772.0,606.0 L772.9,606.0 L772.9,603.8 L773.8,603.8 L773.8,601.8 L774.7,601.8 L774.7,604.6 L775.6,604.6 L775.6,604.7 L776.5,604.7 L776.5,601.5 L777.4,601.5 L777.4,599.0 L778.3,599.0 L778.3,601.6 L779.2,601.6 L779.2,601.5 L780.1,601.5 L780.1,602.7 L781.0,602.7 L781.0,598.7 L781.9,598.7 L781.9,597.8 L782.8,597.8 L782.8,594.0 L783.7,594.0 L783.7,594.4 L784.6,594.4 L784.6,589.7 L785.5,589.7 L785.5,584.1 L786.4,584.1 L786.4,584.4 L787.3,584.4 L787.3,580.4 L788.2,580.4 L788.2,579.3 L789.1,579.3 L789.1,581.7 L790.0,581.7 L790.0,578.1 L790.9,578.1 L790.9,578.1 L791.8,578.1 L791.8,585.0 L792.7,585.0 L792.7,589.1 L793.6,589.1 L793.6,583.7 L794.5,583.7 L794.5,583.2 L795.4,583.2 L795.4,582.4 L796.3,582.4 L796.3,583.1 L797.2,583.1 L797.2,586.3 L798.1,586.3 L798.1,584.9 L799.0,584.9 L799.0,584.5 L799.9,584.5 L799.9,582.6 L800.8,582.6 L800.8,582.0 L801.8,582.0 L801.8,577.5 L802.7,577.5 L802.7,576.6 L803.6,576.6 L803.6,580.0 L804.5,580.0 L804.5,577.5 L805.4,577.5 L805.4,575.7 L806.3,575.7 L806.3,577.7 L807.2,577.7 L807.2,576.7 L808.1,576.7 L808.1,575.6 L809.0,575.6 L809.0,576.8 L809.9,576.8 L809.9,568.3 L810.8,568.3 L810.8,575.8 L811.7,575.8 L811.7,568.0 L812.6,568.0 L812.6,569.3 L813.5,569.3 L813.5,569.9 L814.4,569.9 L814.4,563.2 L815.3,563.2 L815.3,565.6 L816.2,565.6 L816.2,564.0 L817.1,564.0 L817.1,567.1 L818.0,567.1 L818.0,569.2 L818.9,569.2 L818.9,571.7 L819.8,571.7 L819.8,570.3 L820.7,570.3 L820.7,562.4 L821.6,562.4 L821.6,565.9 L822.5,565.9 L822.5,565.5 L823.4,565.5 L823.4,567.1 L824.3,567.1 L824.3,564.0 L825.2,564.0 L825.2,565.2 L826.1,565.2 L826.1,560.6 L827.0,560.6 L827.0,561.6 L827.9,561.6 L827.9,563.7 L828.8,563.7 L828.8,563.8 L829.7,563.8 L829.7,570.7 L830.6,570.7 L830.6,571.7 L831.5,571.7 L831.5,576.1 L832.4,576.1 L832.4,574.5 L833.3,574.5 L833.3,580.9 L834.2,580.9 L834.2,582.0 L835.1,582.0 L835.1,588.2 L836.0,588.2 L836.0,589.5 L837.0,589.5 L837.0,598.2 L837.9,598.2 L837.9,595.6 L838.8,595.6 L838.8,601.0 L839.7,601.0 L839.7,601.8 L840.6,601.8 L840.6,604.6 L841.5,604.6 L841.5,606.0 L842.4,606.0 L842.4,610.7 L843.3,610.7 L843.3,608.6 L844.2,608.6 L844.2,614.9 L845.1,614.9 L845.1,616.8 L846.0,616.8 L846.0,617.4 L846.9,617.4 L846.9,617.5 L847.8,617.5 L847.8,621.5 L848.7,621.5 L848.7,621.8 L849.6,621.8 L849.6,621.7 L850.5,621.7 L850.5,621.7 L851.4,621.7 L851.4,621.4 L852.3,621.4 L852.3,623.7 L853.2,623.7 L853.2,626.9 L854.1,626.9 L854.1,623.9 L855.0,623.9 L855.0,626.0 L855.9,626.0 L855.9,627.3 L856.8,627.3 L856.8,626.7 L857.7,626.7 L857.7,625.8 L858.6,625.8 L858.6,627.1 L859.5,627.1 L859.5,627.8 L860.4,627.8 L860.4,628.0 L861.3,628.0 L861.3,626.1 L862.2,626.1 L862.2,627.2 L863.1,627.2 L863.1,627.4 L864.0,627.4 L864.0,628.0 L864.9,628.0 L864.9,627.7 L865.8,627.7 L865.8,627.8 L866.7,627.8 L866.7,627.8 L867.6,627.8 L867.6,627.9 L868.5,627.9 L868.5,628.0 L869.4,628.0 L869.4,628.0 L870.3,628.0 L870.3,628.0 L871.2,628.0 L871.2,628.0 L872.1,628.0 L872.1,628.0 L873.1,628.0 L873.1,628.0 L874.0,628.0 L874.0,628.0 L874.9,628.0 L874.9,628.0 L875.8,628.0 L875.8,628.0 L876.7,628.0 L876.7,628.0 L877.6,628.0 L877.6,628.0 L878.5,628.0 L878.5,628.0 L879.4,628.0 L879.4,628.0 L880.3,628.0 L880.3,628.0 L881.2,628.0 L881.2,628.0 L882.1,628.0 L882.1,628.0 L883.0,628.0 L883.0,628.0 L883.9,628.0 L883.9,628.0 L884.8,628.0 L884.8,628.0 L885.7,628.0 L885.7,628.0 L886.6,628.0 L886.6,628.0 L887.5,628.0 L887.5,628.0 L888.4,628.0 L888.4,628.0 L889.3,628.0 L889.3,628.0 L890.2,628.0 L890.2,628.0 L891.1,628.0 L891.1,628.0 L892.0,628.0 L892.0,628.0 L892.9,628.0 L892.9,628.0 L893.8,628.0 L893.8,628.0 L894.7,628.0 L894.7,628.0 L895.6,628.0 L895.6,628.0 L896.5,628.0 L896.5,628.0 L897.4,628.0 L897.4,628.0 L898.3,628.0 L898.3,628.0 L899.2,628.0 L899.2,628.0 L900.1,628.0 L900.1,628.0 L901.0,628.0 L901.0,628.0 L901.9,628.0 L901.9,628.0 L902.8,628.0 L902.8,628.0 L903.7,628.0 L903.7,628.0 L904.6,628.0 L904.6,628.0 L905.5,628.0 L905.5,628.0 L906.4,628.0 L906.4,628.0 L907.3,628.0 L907.3,628.0 L908.3,628.0 L908.3,628.0 L909.2,628.0 L909.2,628.0 L910.1,628.0 L910.1,628.0 L911.0,628.0 L911.0,628.0 L911.9,628.0 L911.9,628.0 L912.8,628.0 L912.8,628.0 L913.7,628.0 L913.7,628.0 L914.6,628.0 L914.6,628.0 L915.5,628.0 L915.5,628.0 L916.4,628.0 L916.4,628.0 L917.3,628.0 L917.3,628.0 L918.2,628.0 L918.2,628.0 L919.1,628.0 L919.1,628.0 L920.0,628.0 L920.0,628.0 L920.9,628.0 L920.9,628.0 L921.8,628.0 L921.8,628.0 L922.7,628.0 L922.7,628.0 L923.6,628.0 L923.6,628.0 L924.5,628.0 L924.5,628.0 L925.4,628.0 L925.4,628.0 Z" fill="#50479c" stroke="#000" stroke-width="1.25" stroke-linejoin="miter" stroke-miterlimit="2"/>
<rect x="677.2" y="399.0" width="248.2" height="229.0" fill="none" stroke="#111" stroke-width="1.5"/>
<line x1="677.2" y1="398.0" x2="677.2" y2="629.0" stroke="#000" stroke-width="1.9"/>
<line x1="676.2" y1="628.0" x2="926.1" y2="628.0" stroke="#000" stroke-width="1.9"/>
<path d="M669.7,628.0 h7.5 M672.7,618.9 h4.5 M672.7,609.8 h4.5 M672.7,600.7 h4.5 M672.7,591.6 h4.5 M669.7,582.5 h7.5 M672.7,573.4 h4.5 M672.7,564.3 h4.5 M672.7,555.2 h4.5 M672.7,546.1 h4.5 M669.7,537.0 h7.5 M672.7,527.9 h4.5 M672.7,518.8 h4.5 M672.7,509.6 h4.5 M672.7,500.5 h4.5 M669.7,491.4 h7.5 M672.7,482.3 h4.5 M672.7,473.2 h4.5 M672.7,464.1 h4.5 M672.7,455.0 h4.5 M669.7,445.9 h7.5 M672.7,436.8 h4.5 M672.7,427.7 h4.5 M672.7,418.6 h4.5 M672.7,409.5 h4.5 M669.7,400.4 h7.5" stroke="#111" stroke-width="1.3"/>
<path d="M677.2,628.0 v7.0 M695.9,628.0 v4.5 M706.8,628.0 v4.5 M714.6,628.0 v4.5 M720.6,628.0 v4.5 M725.5,628.0 v4.5 M729.6,628.0 v4.5 M733.2,628.0 v4.5 M736.4,628.0 v4.5 M739.2,628.0 v7.0 M757.9,628.0 v4.5 M768.9,628.0 v4.5 M776.6,628.0 v4.5 M782.6,628.0 v4.5 M787.5,628.0 v4.5 M791.7,628.0 v4.5 M795.3,628.0 v4.5 M798.5,628.0 v4.5 M801.3,628.0 v7.0 M820.0,628.0 v4.5 M830.9,628.0 v4.5 M838.7,628.0 v4.5 M844.7,628.0 v4.5 M849.6,628.0 v4.5 M853.7,628.0 v4.5 M857.3,628.0 v4.5 M860.5,628.0 v4.5 M863.4,628.0 v7.0 M882.0,628.0 v4.5 M893.0,628.0 v4.5 M900.7,628.0 v4.5 M906.7,628.0 v4.5 M911.6,628.0 v4.5 M915.8,628.0 v4.5 M919.4,628.0 v4.5 M922.6,628.0 v4.5 M925.4,628.0 v7" stroke="#111" stroke-width="1.3"/>
<text transform="translate(666.2,626.5) rotate(-90)" font-family='"Liberation Sans", sans-serif' font-size="14.3" text-anchor="middle" fill="#111">0</text>
<text transform="translate(666.2,581.0) rotate(-90)" font-family='"Liberation Sans", sans-serif' font-size="14.3" text-anchor="middle" fill="#111">40</text>
<text transform="translate(666.2,535.5) rotate(-90)" font-family='"Liberation Sans", sans-serif' font-size="14.3" text-anchor="middle" fill="#111">80</text>
<text transform="translate(666.2,489.9) rotate(-90)" font-family='"Liberation Sans", sans-serif' font-size="14.3" text-anchor="middle" fill="#111">120</text>
<text transform="translate(666.2,444.4) rotate(-90)" font-family='"Liberation Sans", sans-serif' font-size="14.3" text-anchor="middle" fill="#111">160</text>
<text transform="translate(666.2,398.9) rotate(-90)" font-family='"Liberation Sans", sans-serif' font-size="14.3" text-anchor="middle" fill="#111">200</text>
<text x="680.0" y="651.2" font-family='"Liberation Sans", sans-serif' font-size="12.5" fill="#111" text-anchor="end">10</text>
<text x="680.4" y="644.8" font-family='"Liberation Sans", sans-serif' font-size="12.5" fill="#111">0</text>
<text x="742.0" y="651.2" font-family='"Liberation Sans", sans-serif' font-size="12.5" fill="#111" text-anchor="end">10</text>
<text x="742.5" y="644.8" font-family='"Liberation Sans", sans-serif' font-size="12.5" fill="#111">1</text>
<text x="804.1" y="651.2" font-family='"Liberation Sans", sans-serif' font-size="12.5" fill="#111" text-anchor="end">10</text>
<text x="804.5" y="644.8" font-family='"Liberation Sans", sans-serif' font-size="12.5" fill="#111">2</text>
<text x="866.1" y="651.2" font-family='"Liberation Sans", sans-serif' font-size="12.5" fill="#111" text-anchor="end">10</text>
<text x="866.6" y="644.8" font-family='"Liberation Sans", sans-serif' font-size="12.5" fill="#111">3</text>
<text x="928.2" y="651.2" font-family='"Liberation Sans", sans-serif' font-size="12.5" fill="#111" text-anchor="end">10</text>
<text x="928.6" y="644.8" font-family='"Liberation Sans", sans-serif' font-size="12.5" fill="#111">4</text>
<text transform="translate(650.9,516.8) rotate(-90)" font-family='"Liberation Sans", sans-serif' font-size="14.3" text-anchor="middle" fill="#111">Counts</text>
<text x="801.3" y="664.0" font-family='"Liberation Sans", sans-serif' font-size="13.2" text-anchor="middle" fill="#111">ROS</text>
<path d="M761.8,511.8 V537.2 M761.8,524.8 H924.6" stroke="#111" stroke-width="1.5" fill="none"/>
<path d="M924.6,511.8 V537.2" stroke="#111" stroke-width="2.2" fill="none"/>
<text x="843.3" y="541.1" font-family='"Liberation Sans", sans-serif' font-size="12.5" fill="#222" textLength="17.2" lengthAdjust="spacingAndGlyphs">M1</text>
<text x="757.6" y="386.2" font-family='"Liberation Serif", serif' font-size="31.5" fill="#000" stroke="#000" stroke-width="0.85" textLength="112.0" lengthAdjust="spacingAndGlyphs">NAC-Nc</text>
<path d="M1004.5,631.5 L1004.5,631.3 L1005.4,631.3 L1005.4,630.6 L1006.3,630.6 L1006.3,631.5 L1007.2,631.5 L1007.2,631.1 L1008.1,631.1 L1008.1,629.2 L1009.0,629.2 L1009.0,629.0 L1009.9,629.0 L1009.9,630.5 L1010.8,630.5 L1010.8,630.1 L1011.7,630.1 L1011.7,630.4 L1012.6,630.4 L1012.6,630.1 L1013.5,630.1 L1013.5,630.4 L1014.4,630.4 L1014.4,631.2 L1015.3,631.2 L1015.3,628.7 L1016.2,628.7 L1016.2,631.5 L1017.1,631.5 L1017.1,629.5 L1018.0,629.5 L1018.0,631.3 L1018.9,631.3 L1018.9,631.4 L1019.8,631.4 L1019.8,630.2 L1020.7,630.2 L1020.7,631.0 L1021.6,631.0 L1021.6,630.3 L1022.5,630.3 L1022.5,630.4 L1023.4,630.4 L1023.4,630.5 L1024.3,630.5 L1024.3,629.6 L1025.2,629.6 L1025.2,629.7 L1026.1,629.7 L1026.1,630.1 L1027.0,630.1 L1027.0,629.7 L1027.9,629.7 L1027.9,630.4 L1028.8,630.4 L1028.8,628.5 L1029.7,628.5 L1029.7,630.0 L1030.6,630.0 L1030.6,630.5 L1031.5,630.5 L1031.5,630.7 L1032.4,630.7 L1032.4,629.0 L1033.3,629.0 L1033.3,627.4 L1034.2,627.4 L1034.2,629.8 L1035.1,629.8 L1035.1,628.9 L1036.1,628.9 L1036.1,627.8 L1037.0,627.8 L1037.0,628.5 L1037.9,628.5 L1037.9,628.6 L1038.8,628.6 L1038.8,629.3 L1039.7,629.3 L1039.7,628.8 L1040.6,628.8 L1040.6,628.5 L1041.5,628.5 L1041.5,629.5 L1042.4,629.5 L1042.4,630.4 L1043.3,630.4 L1043.3,626.4 L1044.2,626.4 L1044.2,628.5 L1045.1,628.5 L1045.1,628.6 L1046.0,628.6 L1046.0,628.5 L1046.9,628.5 L1046.9,626.6 L1047.8,626.6 L1047.8,628.3 L1048.7,628.3 L1048.7,625.7 L1049.6,625.7 L1049.6,627.8 L1050.5,627.8 L1050.5,628.0 L1051.4,628.0 L1051.4,628.8 L1052.3,628.8 L1052.3,626.6 L1053.2,626.6 L1053.2,628.8 L1054.1,628.8 L1054.1,626.4 L1055.0,626.4 L1055.0,627.1 L1055.9,627.1 L1055.9,627.5 L1056.8,627.5 L1056.8,628.1 L1057.7,628.1 L1057.7,625.0 L1058.6,625.0 L1058.6,627.4 L1059.5,627.4 L1059.5,627.7 L1060.4,627.7 L1060.4,627.2 L1061.3,627.2 L1061.3,625.4 L1062.2,625.4 L1062.2,626.1 L1063.1,626.1 L1063.1,624.5 L1064.0,624.5 L1064.0,624.8 L1064.9,624.8 L1064.9,627.4 L1065.8,627.4 L1065.8,624.0 L1066.7,624.0 L1066.7,623.7 L1067.6,623.7 L1067.6,625.8 L1068.5,625.8 L1068.5,623.1 L1069.4,623.1 L1069.4,624.0 L1070.3,624.0 L1070.3,622.9 L1071.2,622.9 L1071.2,622.9 L1072.1,622.9 L1072.1,623.7 L1073.0,623.7 L1073.0,623.6 L1073.9,623.6 L1073.9,624.2 L1074.8,624.2 L1074.8,621.6 L1075.7,621.6 L1075.7,623.2 L1076.6,623.2 L1076.6,622.5 L1077.5,622.5 L1077.5,621.3 L1078.4,621.3 L1078.4,623.4 L1079.3,623.4 L1079.3,621.3 L1080.2,621.3 L1080.2,621.5 L1081.1,621.5 L1081.1,626.3 L1082.0,626.3 L1082.0,620.9 L1082.9,620.9 L1082.9,624.0 L1083.8,624.0 L1083.8,621.4 L1084.7,621.4 L1084.7,623.0 L1085.6,623.0 L1085.6,622.9 L1086.5,622.9 L1086.5,621.0 L1087.4,621.0 L1087.4,621.3 L1088.3,621.3 L1088.3,624.0 L1089.2,624.0 L1089.2,620.4 L1090.1,620.4 L1090.1,624.1 L1091.0,624.1 L1091.0,621.1 L1091.9,621.1 L1091.9,622.2 L1092.8,622.2 L1092.8,621.2 L1093.7,621.2 L1093.7,620.3 L1094.6,620.3 L1094.6,621.0 L1095.5,621.0 L1095.5,616.2 L1096.4,616.2 L1096.4,624.4 L1097.3,624.4 L1097.3,620.2 L1098.3,620.2 L1098.3,621.8 L1099.2,621.8 L1099.2,620.4 L1100.1,620.4 L1100.1,618.8 L1101.0,618.8 L1101.0,617.6 L1101.9,617.6 L1101.9,619.9 L1102.8,619.9 L1102.8,621.5 L1103.7,621.5 L1103.7,621.8 L1104.6,621.8 L1104.6,620.2 L1105.5,620.2 L1105.5,619.3 L1106.4,619.3 L1106.4,622.8 L1107.3,622.8 L1107.3,621.7 L1108.2,621.7 L1108.2,620.8 L1109.1,620.8 L1109.1,616.6 L1110.0,616.6 L1110.0,616.6 L1110.9,616.6 L1110.9,619.1 L1111.8,619.1 L1111.8,613.7 L1112.7,613.7 L1112.7,616.9 L1113.6,616.9 L1113.6,613.6 L1114.5,613.6 L1114.5,607.6 L1115.4,607.6 L1115.4,614.1 L1116.3,614.1 L1116.3,611.7 L1117.2,611.7 L1117.2,610.0 L1118.1,610.0 L1118.1,611.0 L1119.0,611.0 L1119.0,611.8 L1119.9,611.8 L1119.9,608.6 L1120.8,608.6 L1120.8,608.3 L1121.7,608.3 L1121.7,608.2 L1122.6,608.2 L1122.6,605.2 L1123.5,605.2 L1123.5,605.1 L1124.4,605.1 L1124.4,609.1 L1125.3,609.1 L1125.3,611.1 L1126.2,611.1 L1126.2,609.5 L1127.1,609.5 L1127.1,606.8 L1128.0,606.8 L1128.0,604.7 L1128.9,604.7 L1128.9,595.1 L1129.8,595.1 L1129.8,598.4 L1130.7,598.4 L1130.7,590.8 L1131.6,590.8 L1131.6,597.0 L1132.5,597.0 L1132.5,589.9 L1133.4,589.9 L1133.4,589.4 L1134.3,589.4 L1134.3,588.5 L1135.2,588.5 L1135.2,581.2 L1136.1,581.2 L1136.1,580.7 L1137.0,580.7 L1137.0,573.4 L1137.9,573.4 L1137.9,572.1 L1138.8,572.1 L1138.8,565.6 L1139.7,565.6 L1139.7,564.2 L1140.6,564.2 L1140.6,561.9 L1141.5,561.9 L1141.5,564.0 L1142.4,564.0 L1142.4,560.0 L1143.3,560.0 L1143.3,563.1 L1144.2,563.1 L1144.2,557.0 L1145.1,557.0 L1145.1,551.5 L1146.0,551.5 L1146.0,553.5 L1146.9,553.5 L1146.9,556.2 L1147.8,556.2 L1147.8,553.3 L1148.7,553.3 L1148.7,554.0 L1149.6,554.0 L1149.6,552.0 L1150.5,552.0 L1150.5,553.8 L1151.4,553.8 L1151.4,549.7 L1152.3,549.7 L1152.3,553.2 L1153.2,553.2 L1153.2,553.6 L1154.1,553.6 L1154.1,551.4 L1155.0,551.4 L1155.0,541.7 L1155.9,541.7 L1155.9,540.8 L1156.8,540.8 L1156.8,550.6 L1157.7,550.6 L1157.7,554.0 L1158.6,554.0 L1158.6,559.9 L1159.6,559.9 L1159.6,559.6 L1160.5,559.6 L1160.5,566.2 L1161.4,566.2 L1161.4,567.2 L1162.3,567.2 L1162.3,572.6 L1163.2,572.6 L1163.2,575.1 L1164.1,575.1 L1164.1,576.9 L1165.0,576.9 L1165.0,586.4 L1165.9,586.4 L1165.9,588.9 L1166.8,588.9 L1166.8,585.8 L1167.7,585.8 L1167.7,594.9 L1168.6,594.9 L1168.6,595.6 L1169.5,595.6 L1169.5,594.3 L1170.4,594.3 L1170.4,602.9 L1171.3,602.9 L1171.3,608.2 L1172.2,608.2 L1172.2,608.3 L1173.1,608.3 L1173.1,612.0 L1174.0,612.0 L1174.0,610.7 L1174.9,610.7 L1174.9,613.9 L1175.8,613.9 L1175.8,613.8 L1176.7,613.8 L1176.7,618.3 L1177.6,618.3 L1177.6,615.6 L1178.5,615.6 L1178.5,618.7 L1179.4,618.7 L1179.4,621.6 L1180.3,621.6 L1180.3,626.1 L1181.2,626.1 L1181.2,624.9 L1182.1,624.9 L1182.1,626.6 L1183.0,626.6 L1183.0,625.8 L1183.9,625.8 L1183.9,626.6 L1184.8,626.6 L1184.8,627.9 L1185.7,627.9 L1185.7,628.4 L1186.6,628.4 L1186.6,626.9 L1187.5,626.9 L1187.5,628.9 L1188.4,628.9 L1188.4,629.6 L1189.3,629.6 L1189.3,628.3 L1190.2,628.3 L1190.2,629.8 L1191.1,629.8 L1191.1,630.3 L1192.0,630.3 L1192.0,629.9 L1192.9,629.9 L1192.9,630.0 L1193.8,630.0 L1193.8,631.2 L1194.7,631.2 L1194.7,631.4 L1195.6,631.4 L1195.6,631.5 L1196.5,631.5 L1196.5,631.5 L1197.4,631.5 L1197.4,631.5 L1198.3,631.5 L1198.3,631.5 L1199.2,631.5 L1199.2,631.5 L1200.1,631.5 L1200.1,631.5 L1201.0,631.5 L1201.0,631.5 L1201.9,631.5 L1201.9,631.5 L1202.8,631.5 L1202.8,631.5 L1203.7,631.5 L1203.7,631.5 L1204.6,631.5 L1204.6,631.5 L1205.5,631.5 L1205.5,631.5 L1206.4,631.5 L1206.4,631.5 L1207.3,631.5 L1207.3,631.5 L1208.2,631.5 L1208.2,631.5 L1209.1,631.5 L1209.1,631.5 L1210.0,631.5 L1210.0,631.5 L1210.9,631.5 L1210.9,631.5 L1211.8,631.5 L1211.8,631.5 L1212.7,631.5 L1212.7,631.5 L1213.6,631.5 L1213.6,631.5 L1214.5,631.5 L1214.5,631.5 L1215.4,631.5 L1215.4,631.5 L1216.3,631.5 L1216.3,631.5 L1217.2,631.5 L1217.2,631.5 L1218.1,631.5 L1218.1,631.5 L1219.0,631.5 L1219.0,631.5 L1219.9,631.5 L1219.9,631.5 L1220.8,631.5 L1220.8,631.5 L1221.8,631.5 L1221.8,631.5 L1222.7,631.5 L1222.7,631.5 L1223.6,631.5 L1223.6,631.5 L1224.5,631.5 L1224.5,631.5 L1225.4,631.5 L1225.4,631.5 L1226.3,631.5 L1226.3,631.5 L1227.2,631.5 L1227.2,631.5 L1228.1,631.5 L1228.1,631.5 L1229.0,631.5 L1229.0,631.5 L1229.9,631.5 L1229.9,631.5 L1230.8,631.5 L1230.8,631.5 L1231.7,631.5 L1231.7,631.5 L1232.6,631.5 L1232.6,631.5 L1233.5,631.5 L1233.5,631.5 L1234.4,631.5 L1234.4,631.5 L1235.3,631.5 L1235.3,631.5 L1236.2,631.5 L1236.2,631.5 L1237.1,631.5 L1237.1,631.5 L1238.0,631.5 L1238.0,631.5 L1238.9,631.5 L1238.9,631.5 L1239.8,631.5 L1239.8,631.5 L1240.7,631.5 L1240.7,631.5 L1241.6,631.5 L1241.6,631.5 L1242.5,631.5 L1242.5,631.5 L1243.4,631.5 L1243.4,631.5 L1244.3,631.5 L1244.3,631.5 L1245.2,631.5 L1245.2,631.5 L1246.1,631.5 L1246.1,631.5 L1247.0,631.5 L1247.0,631.5 L1247.9,631.5 L1247.9,631.5 L1248.8,631.5 L1248.8,631.5 L1249.7,631.5 L1249.7,631.5 L1250.6,631.5 L1250.6,631.5 L1251.5,631.5 L1251.5,631.5 L1252.4,631.5 L1252.4,631.5 Z" fill="#50479c" stroke="#000" stroke-width="1.25" stroke-linejoin="miter" stroke-miterlimit="2"/>
<rect x="1004.5" y="401.8" width="247.9" height="229.7" fill="none" stroke="#111" stroke-width="1.5"/>
<line x1="1004.5" y1="400.8" x2="1004.5" y2="632.5" stroke="#000" stroke-width="1.9"/>
<line x1="1003.5" y1="631.5" x2="1253.1" y2="631.5" stroke="#000" stroke-width="1.9"/>
<path d="M997.0,631.5 h7.5 M1000.0,622.4 h4.5 M1000.0,613.2 h4.5 M1000.0,604.1 h4.5 M1000.0,595.0 h4.5 M997.0,585.8 h7.5 M1000.0,576.7 h4.5 M1000.0,567.6 h4.5 M1000.0,558.4 h4.5 M1000.0,549.3 h4.5 M997.0,540.2 h7.5 M1000.0,531.0 h4.5 M1000.0,521.9 h4.5 M1000.0,512.8 h4.5 M1000.0,503.7 h4.5 M997.0,494.5 h7.5 M1000.0,485.4 h4.5 M1000.0,476.3 h4.5 M1000.0,467.1 h4.5 M1000.0,458.0 h4.5 M997.0,448.9 h7.5 M1000.0,439.7 h4.5 M1000.0,430.6 h4.5 M1000.0,421.5 h4.5 M1000.0,412.3 h4.5 M997.0,403.2 h7.5" stroke="#111" stroke-width="1.3"/>
<path d="M1004.5,631.5 v7.0 M1023.2,631.5 v4.5 M1034.1,631.5 v4.5 M1041.8,631.5 v4.5 M1047.8,631.5 v4.5 M1052.7,631.5 v4.5 M1056.9,631.5 v4.5 M1060.5,631.5 v4.5 M1063.6,631.5 v4.5 M1066.5,631.5 v7.0 M1085.1,631.5 v4.5 M1096.0,631.5 v4.5 M1103.8,631.5 v4.5 M1109.8,631.5 v4.5 M1114.7,631.5 v4.5 M1118.8,631.5 v4.5 M1122.4,631.5 v4.5 M1125.6,631.5 v4.5 M1128.5,631.5 v7.0 M1147.1,631.5 v4.5 M1158.0,631.5 v4.5 M1165.8,631.5 v4.5 M1171.8,631.5 v4.5 M1176.7,631.5 v4.5 M1180.8,631.5 v4.5 M1184.4,631.5 v4.5 M1187.6,631.5 v4.5 M1190.4,631.5 v7.0 M1209.1,631.5 v4.5 M1220.0,631.5 v4.5 M1227.7,631.5 v4.5 M1233.7,631.5 v4.5 M1238.7,631.5 v4.5 M1242.8,631.5 v4.5 M1246.4,631.5 v4.5 M1249.6,631.5 v4.5 M1252.4,631.5 v7" stroke="#111" stroke-width="1.3"/>
<text transform="translate(993.5,630.0) rotate(-90)" font-family='"Liberation Sans", sans-serif' font-size="14.3" text-anchor="middle" fill="#111">0</text>
<text transform="translate(993.5,584.3) rotate(-90)" font-family='"Liberation Sans", sans-serif' font-size="14.3" text-anchor="middle" fill="#111">40</text>
<text transform="translate(993.5,538.7) rotate(-90)" font-family='"Liberation Sans", sans-serif' font-size="14.3" text-anchor="middle" fill="#111">80</text>
<text transform="translate(993.5,493.0) rotate(-90)" font-family='"Liberation Sans", sans-serif' font-size="14.3" text-anchor="middle" fill="#111">120</text>
<text transform="translate(993.5,447.4) rotate(-90)" font-family='"Liberation Sans", sans-serif' font-size="14.3" text-anchor="middle" fill="#111">160</text>
<text transform="translate(993.5,401.7) rotate(-90)" font-family='"Liberation Sans", sans-serif' font-size="14.3" text-anchor="middle" fill="#111">200</text>
<text x="1007.3" y="654.7" font-family='"Liberation Sans", sans-serif' font-size="12.5" fill="#111" text-anchor="end">10</text>
<text x="1007.7" y="648.3" font-family='"Liberation Sans", sans-serif' font-size="12.5" fill="#111">0</text>
<text x="1069.3" y="654.7" font-family='"Liberation Sans", sans-serif' font-size="12.5" fill="#111" text-anchor="end">10</text>
<text x="1069.7" y="648.3" font-family='"Liberation Sans", sans-serif' font-size="12.5" fill="#111">1</text>
<text x="1131.2" y="654.7" font-family='"Liberation Sans", sans-serif' font-size="12.5" fill="#111" text-anchor="end">10</text>
<text x="1131.7" y="648.3" font-family='"Liberation Sans", sans-serif' font-size="12.5" fill="#111">2</text>
<text x="1193.2" y="654.7" font-family='"Liberation Sans", sans-serif' font-size="12.5" fill="#111" text-anchor="end">10</text>
<text x="1193.6" y="648.3" font-family='"Liberation Sans", sans-serif' font-size="12.5" fill="#111">3</text>
<text x="1255.2" y="654.7" font-family='"Liberation Sans", sans-serif' font-size="12.5" fill="#111" text-anchor="end">10</text>
<text x="1255.6" y="648.3" font-family='"Liberation Sans", sans-serif' font-size="12.5" fill="#111">4</text>
<text transform="translate(977.3,520.0) rotate(-90)" font-family='"Liberation Sans", sans-serif' font-size="14.3" text-anchor="middle" fill="#111">Counts</text>
<text x="1128.5" y="667.5" font-family='"Liberation Sans", sans-serif' font-size="13.2" text-anchor="middle" fill="#111">ROS</text>
<path d="M1089.4,515.2 V540.4 M1089.4,527.4 H1251.0" stroke="#111" stroke-width="1.5" fill="none"/>
<path d="M1251.0,515.2 V540.4" stroke="#111" stroke-width="2.2" fill="none"/>
<text x="1169.3" y="543.7" font-family='"Liberation Sans", sans-serif' font-size="12.5" fill="#222" textLength="17.4" lengthAdjust="spacingAndGlyphs">M1</text>
<text x="1094.4" y="382.8" font-family='"Liberation Serif", serif' font-size="31.5" fill="#000" stroke="#000" stroke-width="0.85" textLength="78.4" lengthAdjust="spacingAndGlyphs">Rosup</text>
<path d="M0,1310 H1310 V1766 H0 Z M0,1310 V1325 H33 V1310 Z M432,1310 V1325 H506.5 V1310 Z M865.3,1310 V1343.6 H921 V1310 Z" fill="#f9f9f9" fill-rule="evenodd"/>
<text x="47.8" y="731.5" font-family='"Liberation Sans", sans-serif' font-weight="bold" font-size="28.3">B</text>
<line x1="128.5" y1="786.1" x2="128.5" y2="1104.3" stroke="#000" stroke-width="4.4"/>
<path d="M114.5,788.3 H128.5 M114.5,867.2 H128.5 M114.5,945.2 H128.5 M114.5,1023.8 H128.5 M114.5,1102.1 H128.5" stroke="#000" stroke-width="4.2"/>
<text x="81.7" y="796.7" font-family='"Liberation Serif", serif' font-weight="bold" font-size="25.5" textLength="28.8" lengthAdjust="spacingAndGlyphs">2.0</text>
<text x="81.7" y="875.6" font-family='"Liberation Serif", serif' font-weight="bold" font-size="25.5" textLength="28.8" lengthAdjust="spacingAndGlyphs">1.5</text>
<text x="81.7" y="953.6" font-family='"Liberation Serif", serif' font-weight="bold" font-size="25.5" textLength="28.8" lengthAdjust="spacingAndGlyphs">1.0</text>
<text x="81.7" y="1032.2" font-family='"Liberation Serif", serif' font-weight="bold" font-size="25.5" textLength="28.8" lengthAdjust="spacingAndGlyphs">0.5</text>
<text x="81.7" y="1110.5" font-family='"Liberation Serif", serif' font-weight="bold" font-size="25.5" textLength="28.8" lengthAdjust="spacingAndGlyphs">0.0</text>
<text transform="translate(64.7,944.7) rotate(-90)" font-family='"Liberation Serif", serif' font-weight="bold" font-size="26.0" text-anchor="middle" textLength="182.5" lengthAdjust="spacingAndGlyphs">MFI fold (ROS)</text>
<rect x="154.6" y="1098.2" width="42.1" height="3.9" fill="#ffffff" stroke="#000" stroke-width="4.3"/>
<rect x="224.8" y="947.1" width="42.1" height="154.9" fill="#95989c" stroke="#000" stroke-width="4.3"/>
<rect x="295.6" y="876.1" width="42.1" height="225.9" fill="#757a7a" stroke="#000" stroke-width="4.3"/>
<rect x="366.8" y="876.1" width="42.1" height="225.9" fill="#caccca" stroke="#000" stroke-width="4.3"/>
<rect x="437.4" y="849.1" width="42.1" height="252.9" fill="#585b5e" stroke="#000" stroke-width="4.3"/>
<rect x="508.3" y="926.1" width="42.1" height="175.9" fill="#95989c" stroke="#000" stroke-width="4.3"/>
<rect x="577.9" y="959.1" width="42.1" height="142.9" fill="#585b5e" stroke="#000" stroke-width="4.3"/>
<rect x="648.7" y="908.9" width="42.1" height="193.1" fill="#e0e1e0" stroke="#000" stroke-width="4.3"/>
<path d="M245.8,945.0 V940.4 M234.0,940.4 H257.6" stroke="#000" stroke-width="2.2" fill="none"/>
<path d="M316.6,874.0 V866.5 M304.8,866.5 H328.4" stroke="#000" stroke-width="2.2" fill="none"/>
<path d="M387.8,874.0 V868.6 M376.0,868.6 H399.6" stroke="#000" stroke-width="2.2" fill="none"/>
<path d="M458.5,847.0 V844.0 M446.7,844.0 H470.3" stroke="#000" stroke-width="2.2" fill="none"/>
<path d="M529.4,924.0 V921.0 M517.6,921.0 H541.2" stroke="#000" stroke-width="2.2" fill="none"/>
<path d="M599.0,957.0 V949.5 M587.2,949.5 H610.8" stroke="#000" stroke-width="2.2" fill="none"/>
<path d="M669.8,906.8 V900.0 M658.0,900.0 H681.6" stroke="#000" stroke-width="2.2" fill="none"/>
<line x1="114.5" y1="1102.1" x2="719.6" y2="1102.1" stroke="#000" stroke-width="4.4"/>
<path d="M175.6,1102.1 V1116.0 M245.8,1102.1 V1116.0 M316.6,1102.1 V1116.0 M387.8,1102.1 V1116.0 M458.5,1102.1 V1116.0 M529.4,1102.1 V1116.0 M599.0,1102.1 V1116.0 M669.8,1102.1 V1116.0" stroke="#000" stroke-width="4.0"/>
<text transform="translate(185.1,1136.0) rotate(-45)" font-family='"Liberation Serif", serif' font-weight="bold" font-size="25.0" text-anchor="end">Blank</text>
<text transform="translate(255.3,1136.0) rotate(-45)" font-family='"Liberation Serif", serif' font-weight="bold" font-size="25.0" text-anchor="end">Control</text>
<text transform="translate(326.1,1136.0) rotate(-45)" font-family='"Liberation Serif", serif' font-weight="bold" font-size="25.0" text-anchor="end">Nc</text>
<text transform="translate(397.3,1136.0) rotate(-45)" font-family='"Liberation Serif", serif' font-weight="bold" font-size="25.0" text-anchor="end">DMSO-Nc</text>
<text transform="translate(468.0,1136.0) rotate(-45)" font-family='"Liberation Serif", serif' font-weight="bold" font-size="25.0" text-anchor="end">Mdivi1-Nc</text>
<text transform="translate(538.9,1136.0) rotate(-45)" font-family='"Liberation Serif", serif' font-weight="bold" font-size="25.0" text-anchor="end">CCCP-Nc</text>
<text transform="translate(608.5,1136.0) rotate(-45)" font-family='"Liberation Serif", serif' font-weight="bold" font-size="25.0" text-anchor="end">NAC-Nc</text>
<text transform="translate(679.3,1136.0) rotate(-45)" font-family='"Liberation Serif", serif' font-weight="bold" font-size="25.0" text-anchor="end">Rosup</text>
<path d="M244.0,891.5 L244.0,830.0 L458.0,830.0 L458.0,839.6" stroke="#000" stroke-width="3.0" fill="none" stroke-linejoin="miter" stroke-linecap="butt"/>
<path d="M316.6,830.0 L316.6,845.0" stroke="#000" stroke-width="3.0" fill="none" stroke-linejoin="miter" stroke-linecap="butt"/>
<path d="M387.8,830.0 L387.8,845.0" stroke="#000" stroke-width="3.0" fill="none" stroke-linejoin="miter" stroke-linecap="butt"/>
<path d="M387.4,813.7 L387.4,783.0 L528.2,783.0 L528.2,891.0" stroke="#000" stroke-width="3.0" fill="none" stroke-linejoin="miter" stroke-linecap="butt"/>
<path d="M389.0,754.7 L389.0,739.5 L599.6,739.5 L599.6,909.0" stroke="#000" stroke-width="3.0" fill="none" stroke-linejoin="miter" stroke-linecap="butt"/>
<text x="265.1" y="818.2" font-family='"Liberation Sans", sans-serif' font-size="24.0" textLength="33.1" lengthAdjust="spacingAndGlyphs">***</text>
<text x="337.2" y="815.5" font-family='"Liberation Sans", sans-serif' font-size="25.0" stroke="#000" stroke-width="0.45" textLength="25.6" lengthAdjust="spacingAndGlyphs">ns</text>
<text x="415.3" y="820.7" font-family='"Liberation Sans", sans-serif' font-size="24.0" textLength="20.8" lengthAdjust="spacingAndGlyphs">**</text>
<text x="442.5" y="777.0" font-family='"Liberation Sans", sans-serif' font-size="24.0" textLength="32.4" lengthAdjust="spacingAndGlyphs">***</text>
<text x="473.3" y="730.2" font-family='"Liberation Sans", sans-serif' font-size="24.0" textLength="32.5" lengthAdjust="spacingAndGlyphs">***</text>
<text x="875.0" y="756.6" font-family='"Liberation Sans", sans-serif' font-weight="bold" font-size="28.3">C</text>
<line x1="946.6" y1="771.8" x2="946.6" y2="1098.8" stroke="#000" stroke-width="3.5"/>
<path d="M933.0,773.5 H946.6 M933.0,855.5 H946.6 M933.0,934.8 H946.6 M933.0,1016.6 H946.6 M933.0,1097.0 H946.6" stroke="#000" stroke-width="3.4"/>
<text x="906.0" y="782.2" font-family='"Liberation Serif", serif' font-weight="bold" font-size="26.5" textLength="23.8" lengthAdjust="spacingAndGlyphs">40</text>
<text x="906.0" y="864.2" font-family='"Liberation Serif", serif' font-weight="bold" font-size="26.5" textLength="23.8" lengthAdjust="spacingAndGlyphs">30</text>
<text x="906.0" y="943.5" font-family='"Liberation Serif", serif' font-weight="bold" font-size="26.5" textLength="23.8" lengthAdjust="spacingAndGlyphs">20</text>
<text x="906.0" y="1025.3" font-family='"Liberation Serif", serif' font-weight="bold" font-size="26.5" textLength="23.8" lengthAdjust="spacingAndGlyphs">10</text>
<text x="917.9" y="1105.7" font-family='"Liberation Serif", serif' font-weight="bold" font-size="26.5" textLength="11.9" lengthAdjust="spacingAndGlyphs">0</text>
<text transform="translate(889.2,937.4) rotate(-90)" font-family='"Liberation Serif", serif' font-weight="bold" font-size="25.0" text-anchor="middle" textLength="131.8" lengthAdjust="spacingAndGlyphs">IL-1β pg/ml</text>
<rect x="1047.3" y="834.0" width="48.7" height="263.0" fill="#000"/>
<path d="M1071.2,834.0 V811.3 M1060.0,811.3 H1083.5" stroke="#000" stroke-width="2.0" fill="none"/>
<rect x="1125.2" y="843.1" width="42.2" height="253.8" fill="#ffffff" stroke="#000" stroke-width="4.3"/>
<path d="M1146.7,841.0 V836.0 M1138.0,836.0 H1159.0" stroke="#000" stroke-width="2.0" fill="none"/>
<rect x="1199.8" y="1004.1" width="43.8" height="92.8" fill="#cccdcd" stroke="#000" stroke-width="4.3"/>
<path d="M1220.4,1002.0 V997.6 M1208.0,997.6 H1233.4" stroke="#000" stroke-width="2.0" fill="none"/>
<line x1="932.5" y1="1097.0" x2="1273.0" y2="1097.0" stroke="#000" stroke-width="3.5"/>
<path d="M996.8,1097.0 V1111.7 M1071.2,1097.0 V1111.7 M1146.7,1097.0 V1111.7 M1220.4,1097.0 V1111.7" stroke="#000" stroke-width="3.2"/>
<text transform="translate(1006.3,1134.0) rotate(-45)" font-family='"Liberation Serif", serif' font-weight="bold" font-size="24.0" text-anchor="end">C</text>
<text transform="translate(1080.7,1134.0) rotate(-45)" font-family='"Liberation Serif", serif' font-weight="bold" font-size="24.0" text-anchor="end">Nc</text>
<text transform="translate(1156.2,1134.0) rotate(-45)" font-family='"Liberation Serif", serif' font-weight="bold" font-size="24.0" text-anchor="end">DMSO-Nc</text>
<text transform="translate(1229.9,1134.0) rotate(-45)" font-family='"Liberation Serif", serif' font-weight="bold" font-size="24.0" text-anchor="end">NAC-Nc</text>
<path d="M1070.0,805.4 L1070.0,790.3 L1146.6,790.3" stroke="#000" stroke-width="3.0" fill="none" stroke-linejoin="miter" stroke-linecap="butt"/>
<path d="M1146.6,791.3 L1165.1,791.3" stroke="#000" stroke-width="3.0" fill="none" stroke-linejoin="miter" stroke-linecap="butt"/>
<path d="M1165.1,790.7 L1229.3,790.7 L1229.3,908.6" stroke="#000" stroke-width="3.0" fill="none" stroke-linejoin="miter" stroke-linecap="butt"/>
<path d="M1146.5,789.5 L1146.5,806.8" stroke="#000" stroke-width="3.5" fill="none" stroke-linejoin="miter" stroke-linecap="butt"/>
<text x="1101.2" y="776.5" font-family='"Liberation Sans", sans-serif' font-size="25.0" stroke="#000" stroke-width="0.45" textLength="24.2" lengthAdjust="spacingAndGlyphs">ns</text>
<text x="1175.5" y="777.8" font-family='"Liberation Sans", sans-serif' font-size="24.0" textLength="21.0" lengthAdjust="spacingAndGlyphs">**</text>
<text x="8.1" y="1304.8" font-family='"Liberation Sans", sans-serif' font-weight="bold" font-size="28.3">D</text>
<line x1="91.4" y1="1334.8" x2="91.4" y2="1653.0" stroke="#000" stroke-width="3.5"/>
<path d="M79.0,1336.5 H91.4 M79.0,1416.0 H91.4 M79.0,1493.4 H91.4 M79.0,1572.2 H91.4 M79.0,1651.2 H91.4" stroke="#000" stroke-width="3.4"/>
<text x="39.6" y="1345.2" font-family='"Liberation Serif", serif' font-weight="bold" font-size="26.5" textLength="35.4" lengthAdjust="spacingAndGlyphs">400</text>
<text x="39.6" y="1424.7" font-family='"Liberation Serif", serif' font-weight="bold" font-size="26.5" textLength="35.4" lengthAdjust="spacingAndGlyphs">300</text>
<text x="39.6" y="1502.1" font-family='"Liberation Serif", serif' font-weight="bold" font-size="26.5" textLength="35.4" lengthAdjust="spacingAndGlyphs">200</text>
<text x="39.6" y="1580.9" font-family='"Liberation Serif", serif' font-weight="bold" font-size="26.5" textLength="35.4" lengthAdjust="spacingAndGlyphs">100</text>
<text x="63.2" y="1659.9" font-family='"Liberation Serif", serif' font-weight="bold" font-size="26.5" textLength="11.8" lengthAdjust="spacingAndGlyphs">0</text>
<text transform="translate(24.3,1495.6) rotate(-90)" font-family='"Liberation Serif", serif' font-weight="bold" font-size="25.0" text-anchor="middle" textLength="115.5" lengthAdjust="spacingAndGlyphs">IL-6 pg/ml</text>
<rect x="189.8" y="1426.2" width="48.0" height="225.0" fill="#000"/>
<path d="M212.6,1426.2 V1394.3 M201.0,1394.3 H225.7" stroke="#000" stroke-width="2.0" fill="none"/>
<rect x="265.1" y="1430.1" width="42.4" height="221.1" fill="#ffffff" stroke="#000" stroke-width="4.3"/>
<path d="M286.2,1427.9 V1375.8 M273.8,1375.8 H298.3" stroke="#000" stroke-width="2.0" fill="none"/>
<rect x="338.1" y="1608.0" width="42.0" height="43.3" fill="#cccdcd" stroke="#000" stroke-width="4.3"/>
<path d="M358.8,1605.8 V1604.0 M350.0,1604.0 H368.0" stroke="#000" stroke-width="2.0" fill="none"/>
<line x1="79.0" y1="1651.2" x2="409.0" y2="1651.2" stroke="#000" stroke-width="3.5"/>
<path d="M141.0,1651.2 V1665.3 M212.6,1651.2 V1665.3 M286.2,1651.2 V1665.3 M358.8,1651.2 V1665.3" stroke="#000" stroke-width="3.2"/>
<text transform="translate(150.0,1685.5) rotate(-45)" font-family='"Liberation Serif", serif' font-weight="bold" font-size="23.5" text-anchor="end">C</text>
<text transform="translate(221.6,1685.5) rotate(-45)" font-family='"Liberation Serif", serif' font-weight="bold" font-size="23.5" text-anchor="end">Nc</text>
<text transform="translate(295.2,1685.5) rotate(-45)" font-family='"Liberation Serif", serif' font-weight="bold" font-size="23.5" text-anchor="end">DMSO-Nc</text>
<text transform="translate(367.8,1685.5) rotate(-45)" font-family='"Liberation Serif", serif' font-weight="bold" font-size="23.5" text-anchor="end">NAC-Nc</text>
<path d="M211.6,1352.3 L211.6,1332.0 L357.0,1332.0 L357.0,1590.7" stroke="#000" stroke-width="3.0" fill="none" stroke-linejoin="miter" stroke-linecap="butt"/>
<path d="M283.2,1332.0 L283.2,1356.7" stroke="#000" stroke-width="3.0" fill="none" stroke-linejoin="miter" stroke-linecap="butt"/>
<text x="233.7" y="1319.2" font-family='"Liberation Sans", sans-serif' font-size="25.0" stroke="#000" stroke-width="0.45" textLength="26.4" lengthAdjust="spacingAndGlyphs">ns</text>
<text x="290.1" y="1325.2" font-family='"Liberation Sans", sans-serif' font-size="24.0" textLength="30.2" lengthAdjust="spacingAndGlyphs">***</text>
<text x="466.8" y="1304.8" font-family='"Liberation Sans", sans-serif' font-weight="bold" font-size="28.3">E</text>
<line x1="563.6" y1="1342.2" x2="563.6" y2="1652.0" stroke="#000" stroke-width="3.5"/>
<path d="M551.7,1344.0 H563.6 M551.7,1421.3 H563.6 M551.7,1497.5 H563.6 M551.7,1573.7 H563.6 M551.7,1650.3 H563.6" stroke="#000" stroke-width="3.4"/>
<text x="501.6" y="1352.7" font-family='"Liberation Serif", serif' font-weight="bold" font-size="26.5" textLength="44.4" lengthAdjust="spacingAndGlyphs">2000</text>
<text x="501.6" y="1430.0" font-family='"Liberation Serif", serif' font-weight="bold" font-size="26.5" textLength="44.4" lengthAdjust="spacingAndGlyphs">1500</text>
<text x="501.6" y="1506.2" font-family='"Liberation Serif", serif' font-weight="bold" font-size="26.5" textLength="44.4" lengthAdjust="spacingAndGlyphs">1000</text>
<text x="512.7" y="1582.4" font-family='"Liberation Serif", serif' font-weight="bold" font-size="26.5" textLength="33.3" lengthAdjust="spacingAndGlyphs">500</text>
<text x="534.9" y="1659.0" font-family='"Liberation Serif", serif' font-weight="bold" font-size="26.5" textLength="11.1" lengthAdjust="spacingAndGlyphs">0</text>
<text transform="translate(485.0,1499.0) rotate(-90)" font-family='"Liberation Serif", serif' font-weight="bold" font-size="25.0" text-anchor="middle" textLength="164.5" lengthAdjust="spacingAndGlyphs">IL-12p40 pg/ml</text>
<rect x="657.0" y="1446.0" width="46.3" height="204.3" fill="#000"/>
<path d="M680.5,1446.0 V1435.0 M669.3,1435.0 H692.0" stroke="#000" stroke-width="2.0" fill="none"/>
<rect x="730.8" y="1438.2" width="41.4" height="212.1" fill="#ffffff" stroke="#000" stroke-width="4.3"/>
<path d="M750.7,1436.0 V1430.8 M740.0,1430.8 H762.3" stroke="#000" stroke-width="2.0" fill="none"/>
<rect x="800.9" y="1571.0" width="42.4" height="79.3" fill="#cccdcd" stroke="#000" stroke-width="4.3"/>
<path d="M822.0,1568.8 V1556.5 M810.4,1556.5 H833.3" stroke="#000" stroke-width="2.0" fill="none"/>
<line x1="551.7" y1="1650.3" x2="871.2" y2="1650.3" stroke="#000" stroke-width="3.5"/>
<path d="M609.6,1650.3 V1664.3 M680.5,1650.3 V1664.3 M750.7,1650.3 V1664.3 M822.0,1650.3 V1664.3" stroke="#000" stroke-width="3.2"/>
<text transform="translate(618.6,1685.5) rotate(-45)" font-family='"Liberation Serif", serif' font-weight="bold" font-size="23.5" text-anchor="end">C</text>
<text transform="translate(689.5,1685.5) rotate(-45)" font-family='"Liberation Serif", serif' font-weight="bold" font-size="23.5" text-anchor="end">Nc</text>
<text transform="translate(759.7,1685.5) rotate(-45)" font-family='"Liberation Serif", serif' font-weight="bold" font-size="23.5" text-anchor="end">DMSO-Nc</text>
<text transform="translate(831.0,1685.5) rotate(-45)" font-family='"Liberation Serif", serif' font-weight="bold" font-size="23.5" text-anchor="end">NAC-Nc</text>
<path d="M679.8,1396.8 L679.8,1367.6 L754.3,1367.6 L754.3,1387.6" stroke="#000" stroke-width="3.0" fill="none" stroke-linejoin="miter" stroke-linecap="butt"/>
<path d="M750.0,1349.4 L750.0,1329.0 L822.7,1329.0 L822.7,1496.8" stroke="#000" stroke-width="3.0" fill="none" stroke-linejoin="miter" stroke-linecap="butt"/>
<text x="704.2" y="1358.5" font-family='"Liberation Sans", sans-serif' font-size="25.0" stroke="#000" stroke-width="0.45" textLength="22.8" lengthAdjust="spacingAndGlyphs">ns</text>
<text x="769.5" y="1321.9" font-family='"Liberation Sans", sans-serif' font-size="24.0" textLength="29.8" lengthAdjust="spacingAndGlyphs">***</text>
<text x="909.3" y="1304.8" font-family='"Liberation Sans", sans-serif' font-weight="bold" font-size="28.3">F</text>
<line x1="1003.0" y1="1341.2" x2="1003.0" y2="1651.5" stroke="#000" stroke-width="3.5"/>
<path d="M989.3,1343.0 H1003.0 M989.3,1420.0 H1003.0 M989.3,1496.0 H1003.0 M989.3,1572.6 H1003.0 M989.3,1649.7 H1003.0" stroke="#000" stroke-width="3.4"/>
<text x="939.0" y="1351.7" font-family='"Liberation Serif", serif' font-weight="bold" font-size="26.5" textLength="46.0" lengthAdjust="spacingAndGlyphs">2000</text>
<text x="939.0" y="1428.7" font-family='"Liberation Serif", serif' font-weight="bold" font-size="26.5" textLength="46.0" lengthAdjust="spacingAndGlyphs">1500</text>
<text x="939.0" y="1504.7" font-family='"Liberation Serif", serif' font-weight="bold" font-size="26.5" textLength="46.0" lengthAdjust="spacingAndGlyphs">1000</text>
<text x="950.5" y="1581.3" font-family='"Liberation Serif", serif' font-weight="bold" font-size="26.5" textLength="34.5" lengthAdjust="spacingAndGlyphs">500</text>
<text x="973.5" y="1658.4" font-family='"Liberation Serif", serif' font-weight="bold" font-size="26.5" textLength="11.5" lengthAdjust="spacingAndGlyphs">0</text>
<text transform="translate(925.2,1498.1) rotate(-90)" font-family='"Liberation Serif", serif' font-weight="bold" font-size="25.0" text-anchor="middle" textLength="127.2" lengthAdjust="spacingAndGlyphs">IFN-γ pg/ml</text>
<rect x="1098.2" y="1438.7" width="46.0" height="211.0" fill="#000"/>
<path d="M1120.6,1438.7 V1420.7 M1109.0,1420.7 H1132.0" stroke="#000" stroke-width="2.0" fill="none"/>
<rect x="1170.0" y="1445.2" width="41.9" height="204.6" fill="#ffffff" stroke="#000" stroke-width="4.3"/>
<path d="M1190.0,1443.0 V1431.2 M1178.7,1431.2 H1202.3" stroke="#000" stroke-width="2.0" fill="none"/>
<rect x="1242.2" y="1546.9" width="41.0" height="102.8" fill="#cccdcd" stroke="#000" stroke-width="4.3"/>
<path d="M1262.3,1544.7 V1540.4 M1250.9,1540.4 H1273.8" stroke="#000" stroke-width="2.0" fill="none"/>
<line x1="989.3" y1="1649.7" x2="1310.0" y2="1649.7" stroke="#000" stroke-width="3.5"/>
<path d="M1049.7,1649.7 V1662.9 M1120.6,1649.7 V1662.9 M1190.0,1649.7 V1662.9 M1262.3,1649.7 V1662.9" stroke="#000" stroke-width="3.2"/>
<text transform="translate(1058.7,1685.5) rotate(-45)" font-family='"Liberation Serif", serif' font-weight="bold" font-size="23.5" text-anchor="end">C</text>
<text transform="translate(1129.6,1685.5) rotate(-45)" font-family='"Liberation Serif", serif' font-weight="bold" font-size="23.5" text-anchor="end">Nc</text>
<text transform="translate(1199.0,1685.5) rotate(-45)" font-family='"Liberation Serif", serif' font-weight="bold" font-size="23.5" text-anchor="end">DMSO-Nc</text>
<text transform="translate(1271.3,1685.5) rotate(-45)" font-family='"Liberation Serif", serif' font-weight="bold" font-size="23.5" text-anchor="end">NAC-Nc</text>
<path d="M1128.4,1381.3 L1128.4,1370.1 L1164.1,1370.1" stroke="#000" stroke-width="3.0" fill="none" stroke-linejoin="miter" stroke-linecap="butt"/>
<path d="M1164.1,1368.7 L1260.2,1368.7 L1260.2,1516.5" stroke="#000" stroke-width="3.0" fill="none" stroke-linejoin="miter" stroke-linecap="butt"/>
<path d="M1192.1,1367.5 L1192.1,1379.6" stroke="#000" stroke-width="5.5" fill="none" stroke-linejoin="miter" stroke-linecap="butt"/>
<path d="M1193.2,1378.0 L1193.2,1386.8" stroke="#000" stroke-width="3.5" fill="none" stroke-linejoin="miter" stroke-linecap="butt"/>
<text x="1144.2" y="1350.5" font-family='"Liberation Sans", sans-serif' font-size="25.0" stroke="#000" stroke-width="0.45" textLength="21.1" lengthAdjust="spacingAndGlyphs">ns</text>
<text x="1214.3" y="1358.2" font-family='"Liberation Sans", sans-serif' font-size="24.0" textLength="28.9" lengthAdjust="spacingAndGlyphs">***</text>
</svg></body></html>
